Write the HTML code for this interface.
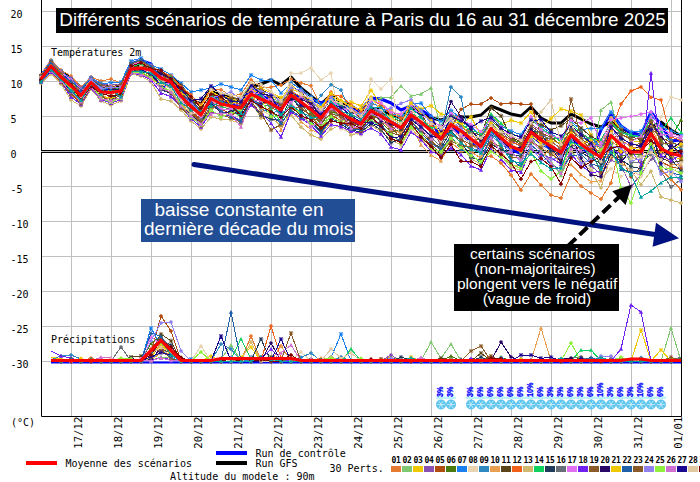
<!DOCTYPE html>
<html><head><meta charset="utf-8"><style>
html,body{margin:0;padding:0;background:#fff;width:700px;height:482px;overflow:hidden}
svg{display:block}
</style></head><body>
<svg width="700" height="482" viewBox="0 0 700 482">
<defs>
<marker id="m0" markerWidth="5" markerHeight="5" refX="2.5" refY="2.5" markerUnits="userSpaceOnUse"><path d="M2.5 0.3L4.7 2.5L2.5 4.7L0.3 2.5Z" fill="#e67a30"/></marker>
<marker id="m1" markerWidth="5" markerHeight="5" refX="2.5" refY="2.5" markerUnits="userSpaceOnUse"><path d="M2.5 0.4L4.6 4.3H0.4Z" fill="#80c870"/></marker>
<marker id="m2" markerWidth="5" markerHeight="5" refX="2.5" refY="2.5" markerUnits="userSpaceOnUse"><path d="M2.5 0.2V4.8M0.2 2.5H4.8M0.9 0.9L4.1 4.1M4.1 0.9L0.9 4.1" stroke="#f0c800" stroke-width="1"/></marker>
<marker id="m3" markerWidth="5" markerHeight="5" refX="2.5" refY="2.5" markerUnits="userSpaceOnUse"><circle cx="2.5" cy="2.5" r="1.8" fill="#8850b0"/></marker>
<marker id="m4" markerWidth="5" markerHeight="5" refX="2.5" refY="2.5" markerUnits="userSpaceOnUse"><path d="M2.5 0.3L4.7 2.5L2.5 4.7L0.3 2.5Z" fill="#b04c10"/></marker>
<marker id="m5" markerWidth="5" markerHeight="5" refX="2.5" refY="2.5" markerUnits="userSpaceOnUse"><path d="M2.5 0.4L4.6 4.3H0.4Z" fill="#4a7a10"/></marker>
<marker id="m6" markerWidth="5" markerHeight="5" refX="2.5" refY="2.5" markerUnits="userSpaceOnUse"><path d="M2.5 0.2V4.8M0.2 2.5H4.8M0.9 0.9L4.1 4.1M4.1 0.9L0.9 4.1" stroke="#1a80f0" stroke-width="1"/></marker>
<marker id="m7" markerWidth="5" markerHeight="5" refX="2.5" refY="2.5" markerUnits="userSpaceOnUse"><circle cx="2.5" cy="2.5" r="1.8" fill="#e8d4b0"/></marker>
<marker id="m8" markerWidth="5" markerHeight="5" refX="2.5" refY="2.5" markerUnits="userSpaceOnUse"><path d="M2.5 0.3L4.7 2.5L2.5 4.7L0.3 2.5Z" fill="#3088c0"/></marker>
<marker id="m9" markerWidth="5" markerHeight="5" refX="2.5" refY="2.5" markerUnits="userSpaceOnUse"><path d="M2.5 0.4L4.6 4.3H0.4Z" fill="#e8a050"/></marker>
<marker id="m10" markerWidth="5" markerHeight="5" refX="2.5" refY="2.5" markerUnits="userSpaceOnUse"><path d="M2.5 0.2V4.8M0.2 2.5H4.8M0.9 0.9L4.1 4.1M4.1 0.9L0.9 4.1" stroke="#5a4418" stroke-width="1"/></marker>
<marker id="m11" markerWidth="5" markerHeight="5" refX="2.5" refY="2.5" markerUnits="userSpaceOnUse"><circle cx="2.5" cy="2.5" r="1.8" fill="#f06018"/></marker>
<marker id="m12" markerWidth="5" markerHeight="5" refX="2.5" refY="2.5" markerUnits="userSpaceOnUse"><path d="M2.5 0.3L4.7 2.5L2.5 4.7L0.3 2.5Z" fill="#d0b870"/></marker>
<marker id="m13" markerWidth="5" markerHeight="5" refX="2.5" refY="2.5" markerUnits="userSpaceOnUse"><path d="M2.5 0.4L4.6 4.3H0.4Z" fill="#10d060"/></marker>
<marker id="m14" markerWidth="5" markerHeight="5" refX="2.5" refY="2.5" markerUnits="userSpaceOnUse"><path d="M2.5 0.2V4.8M0.2 2.5H4.8M0.9 0.9L4.1 4.1M4.1 0.9L0.9 4.1" stroke="#203c5a" stroke-width="1"/></marker>
<marker id="m15" markerWidth="5" markerHeight="5" refX="2.5" refY="2.5" markerUnits="userSpaceOnUse"><circle cx="2.5" cy="2.5" r="1.8" fill="#686e78"/></marker>
<marker id="m16" markerWidth="5" markerHeight="5" refX="2.5" refY="2.5" markerUnits="userSpaceOnUse"><path d="M2.5 0.3L4.7 2.5L2.5 4.7L0.3 2.5Z" fill="#e070f0"/></marker>
<marker id="m17" markerWidth="5" markerHeight="5" refX="2.5" refY="2.5" markerUnits="userSpaceOnUse"><path d="M2.5 0.4L4.6 4.3H0.4Z" fill="#7020f0"/></marker>
<marker id="m18" markerWidth="5" markerHeight="5" refX="2.5" refY="2.5" markerUnits="userSpaceOnUse"><path d="M2.5 0.2V4.8M0.2 2.5H4.8M0.9 0.9L4.1 4.1M4.1 0.9L0.9 4.1" stroke="#8a5a28" stroke-width="1"/></marker>
<marker id="m19" markerWidth="5" markerHeight="5" refX="2.5" refY="2.5" markerUnits="userSpaceOnUse"><circle cx="2.5" cy="2.5" r="1.8" fill="#2a0868"/></marker>
<marker id="m20" markerWidth="5" markerHeight="5" refX="2.5" refY="2.5" markerUnits="userSpaceOnUse"><path d="M2.5 0.3L4.7 2.5L2.5 4.7L0.3 2.5Z" fill="#f0c800"/></marker>
<marker id="m21" markerWidth="5" markerHeight="5" refX="2.5" refY="2.5" markerUnits="userSpaceOnUse"><path d="M2.5 0.4L4.6 4.3H0.4Z" fill="#2060a8"/></marker>
<marker id="m22" markerWidth="5" markerHeight="5" refX="2.5" refY="2.5" markerUnits="userSpaceOnUse"><path d="M2.5 0.2V4.8M0.2 2.5H4.8M0.9 0.9L4.1 4.1M4.1 0.9L0.9 4.1" stroke="#8a5a28" stroke-width="1"/></marker>
<marker id="m23" markerWidth="5" markerHeight="5" refX="2.5" refY="2.5" markerUnits="userSpaceOnUse"><circle cx="2.5" cy="2.5" r="1.8" fill="#9080f0"/></marker>
<marker id="m24" markerWidth="5" markerHeight="5" refX="2.5" refY="2.5" markerUnits="userSpaceOnUse"><path d="M2.5 0.3L4.7 2.5L2.5 4.7L0.3 2.5Z" fill="#90f040"/></marker>
<marker id="m25" markerWidth="5" markerHeight="5" refX="2.5" refY="2.5" markerUnits="userSpaceOnUse"><path d="M2.5 0.4L4.6 4.3H0.4Z" fill="#d070d0"/></marker>
<marker id="m26" markerWidth="5" markerHeight="5" refX="2.5" refY="2.5" markerUnits="userSpaceOnUse"><path d="M2.5 0.2V4.8M0.2 2.5H4.8M0.9 0.9L4.1 4.1M4.1 0.9L0.9 4.1" stroke="#1a0890" stroke-width="1"/></marker>
<marker id="m27" markerWidth="5" markerHeight="5" refX="2.5" refY="2.5" markerUnits="userSpaceOnUse"><circle cx="2.5" cy="2.5" r="1.8" fill="#e0c8a0"/></marker>
<marker id="m28" markerWidth="5" markerHeight="5" refX="2.5" refY="2.5" markerUnits="userSpaceOnUse"><path d="M2.5 0.3L4.7 2.5L2.5 4.7L0.3 2.5Z" fill="#800000"/></marker>
<marker id="m29" markerWidth="5" markerHeight="5" refX="2.5" refY="2.5" markerUnits="userSpaceOnUse"><path d="M2.5 0.4L4.6 4.3H0.4Z" fill="#00a0a0"/></marker>
</defs>
<path d="M71.5 0V416 M111.5 0V416 M151.5 0V416 M191.5 0V416 M231.5 0V416 M271.5 0V416 M311.5 0V416 M351.5 0V416 M391.5 0V416 M431.5 0V416 M471.5 0V416 M511.5 0V416 M551.5 0V416 M591.5 0V416 M631.5 0V416 M671.5 0V416 M41 11.5H681 M41 46.5H681 M41 81.5H681 M41 116.5H681 M41 151.5H681 M41 186.5H681 M41 221.5H681 M41 256.5H681 M41 291.5H681 M41 326.5H681 M41 361.5H681" stroke="#c0c0c0" stroke-width="1" fill="none"/>
<path d="M41.5 0V150 M41.5 152V416.5H681.5V0 M41 150.5H681 M41 152.5H681" stroke="#000" stroke-width="1" fill="none"/>
<polyline points="41,78.0 51,65.0 61,72.0 71,78.0 81,88.0 91,82.0 101,88.0 111,86.0 121,88.0 131,68.0 141,66.0 151,67.0 161,74.0 171,77.0 181,86.0 191,100.0 201,104.0 211,89.0 221,95.0 231,98.0 241,101.0 251,87.0 261,84.0 271,80.0 281,85.0 291,77.0 301,88.0 311,96.0 321,104.0 331,95.0 341,102.0 351,106.0 361,112.0 371,108.0 381,110.0 391,115.0 401,118.0 411,108.0 421,112.0 431,118.0 441,120.0 451,117.0 461,117.0 471,117.0 481,115.0 491,106.0 501,110.0 511,114.0 521,116.0 531,107.0 541,118.0 551,123.0 561,123.0 571,114.0 581,119.0 591,124.0 601,127.0 611,122.0 621,128.0 631,133.0 641,135.0 651,128.0 661,122.0 671,130.0 681,136.0" fill="none" stroke="#000" stroke-width="3" stroke-linejoin="round"/>
<polyline points="41,76.0 51,61.5 61,72.0 71,84.0 81,92.0 91,77.5 101,88.0 111,90.0 121,88.0 131,64.0 141,60.5 151,64.0 161,88.0 171,83.0 181,94.0 191,104.0 201,112.0 211,96.0 221,100.0 231,104.0 241,107.0 251,89.0 261,96.0 271,100.0 281,106.0 291,92.0 301,99.0 311,99.0 321,103.0 331,100.0 341,106.0 351,110.0 361,110.0 371,98.0 381,99.0 391,103.0 401,110.0 411,106.0 421,110.0 431,116.0 441,142.0 451,127.5 461,134.0 471,142.0 481,149.4 491,131.5 501,141.0 511,149.4 521,153.6 531,135.0 541,143.0 551,149.3 561,155.5 571,138.0 581,147.2 591,154.5 601,130.0 611,113.0 621,126.0 631,133.0 641,135.0 651,112.0 661,125.0 671,141.0 681,140.0" fill="none" stroke="#0000ff" stroke-width="3" stroke-linejoin="round"/>
<polyline points="41,75.0 51,60.0 61,70.0 71,76.0 81,87.0 91,77.0 101,81.0 111,79.0 121,83.3 131,64.3 141,62.2 151,67.7 161,72.2 171,77.0 181,87.5 191,99.8 201,104.4 211,89.0 221,89.7 231,96.0 241,94.3 251,79.7 261,87.5 271,87.2 281,85.0 291,79.1 301,83.1 311,85.7 321,106.5 331,92.0 341,101.4 351,107.3 361,117.4 371,103.9 381,106.2 391,110.1 401,120.2 411,111.3 421,124.4 431,125.9 441,142.4 451,126.7 461,138.1 471,151.0 481,158.8 491,156.0 501,163.0 511,175.0 521,190.0 531,174.0 541,185.0 551,195.0 561,198.0 571,175.0 581,186.0 591,193.0 601,199.0 611,183.0 621,140.0 631,146.7 641,148.1 651,138.6 661,169.7 671,179.3 681,189.7" fill="none" stroke="#e67a30" stroke-width="1" shape-rendering="crispEdges" marker-start="url(#m0)" marker-mid="url(#m0)" marker-end="url(#m0)"/>
<polyline points="41,78.1 51,63.6 61,77.6 71,85.7 81,95.2 91,83.5 101,92.8 111,89.8 121,88.0 131,62.2 141,63.4 151,69.2 161,74.4 171,81.4 181,101.6 191,106.1 201,118.9 211,95.0 221,101.0 231,100.3 241,97.8 251,83.6 261,92.1 271,97.5 281,102.8 291,92.6 301,100.5 311,113.1 321,129.0 331,111.1 341,117.4 351,117.5 361,111.4 371,102.9 381,97.6 391,97.1 401,86.0 411,96.0 421,94.0 431,88.0 441,130.0 451,114.3 461,121.8 471,128.5 481,142.5 491,126.8 501,148.0 511,155.7 521,154.9 531,138.1 541,149.6 551,161.4 561,175.4 571,152.3 581,159.8 591,167.3 601,110.0 611,102.0 621,141.4 631,164.6 641,153.0 651,136.6 661,141.0 671,147.5 681,147.6" fill="none" stroke="#80c870" stroke-width="1" shape-rendering="crispEdges" marker-start="url(#m1)" marker-mid="url(#m1)" marker-end="url(#m1)"/>
<polyline points="41,76.4 51,61.4 61,74.2 71,81.5 81,91.1 91,80.0 101,88.8 111,91.6 121,86.8 131,64.8 141,68.2 151,68.0 161,76.1 171,85.3 181,91.2 191,104.5 201,115.4 211,92.7 221,95.9 231,97.7 241,103.1 251,89.9 261,93.0 271,96.6 281,100.0 291,83.8 301,95.6 311,102.4 321,108.5 331,95.5 341,102.4 351,102.0 361,106.0 371,90.4 381,104.2 391,111.1 401,116.0 411,102.0 421,108.8 431,105.7 441,114.0 451,115.4 461,125.0 471,116.8 481,135.8 491,115.5 501,124.8 511,120.3 521,123.1 531,112.0 541,127.2 551,118.6 561,109.0 571,111.2 581,115.0 591,134.9 601,144.5 611,118.2 621,128.4 631,140.7 641,141.8 651,131.2 661,146.1 671,156.6 681,158.8" fill="none" stroke="#f0c800" stroke-width="1" shape-rendering="crispEdges" marker-start="url(#m2)" marker-mid="url(#m2)" marker-end="url(#m2)"/>
<polyline points="41,75.6 51,61.8 61,71.7 71,78.1 81,88.3 91,78.3 101,84.8 111,85.1 121,84.2 131,62.9 141,64.6 151,67.1 161,73.3 171,77.5 181,89.7 191,103.8 201,117.2 211,97.3 221,100.2 231,102.9 241,105.8 251,89.0 261,98.5 271,101.3 281,105.7 291,85.8 301,92.6 311,106.3 321,125.1 331,107.0 341,118.4 351,124.4 361,130.4 371,120.8 381,123.2 391,122.7 401,131.4 411,117.6 421,123.0 431,129.1 441,145.1 451,125.2 461,129.4 471,136.2 481,155.8 491,139.2 501,130.5 511,141.1 521,146.5 531,124.2 541,130.9 551,144.5 561,151.9 571,126.8 581,135.9 591,165.5 601,174.9 611,159.9 621,165.2 631,186.8 641,174.6 651,159.2 661,153.6 671,152.7 681,167.0" fill="none" stroke="#8850b0" stroke-width="1" shape-rendering="crispEdges" marker-start="url(#m3)" marker-mid="url(#m3)" marker-end="url(#m3)"/>
<polyline points="41,80.6 51,71.7 61,81.5 71,93.5 81,102.3 91,86.3 101,97.8 111,96.7 121,92.5 131,70.7 141,68.7 151,70.4 161,75.5 171,79.2 181,98.2 191,110.5 201,120.6 211,101.2 221,108.2 231,115.1 241,110.9 251,95.0 261,111.3 271,107.9 281,111.9 291,96.8 301,109.2 311,114.5 321,130.3 331,115.2 341,120.4 351,127.4 361,129.8 371,116.5 381,117.7 391,125.7 401,134.1 411,114.5 421,121.8 431,127.0 441,143.7 451,129.6 461,109.4 471,104.0 481,104.0 491,98.0 501,104.0 511,103.0 521,104.0 531,104.0 541,135.7 551,145.7 561,158.8 571,145.0 581,148.8 591,149.6 601,157.9 611,157.6 621,157.5 631,176.8 641,166.8 651,144.5 661,161.7 671,166.8 681,169.0" fill="none" stroke="#b04c10" stroke-width="1" shape-rendering="crispEdges" marker-start="url(#m4)" marker-mid="url(#m4)" marker-end="url(#m4)"/>
<polyline points="41,79.1 51,69.2 61,80.7 71,92.8 81,99.1 91,85.5 101,95.6 111,99.0 121,95.6 131,70.4 141,65.2 151,69.8 161,78.5 171,83.4 181,91.9 191,106.9 201,109.7 211,93.5 221,103.6 231,99.5 241,104.9 251,95.7 261,97.6 271,100.3 281,103.8 291,89.7 301,104.0 311,111.8 321,123.8 331,112.5 341,113.5 351,118.5 361,124.3 371,112.2 381,122.1 391,131.5 401,130.0 411,116.6 421,118.6 431,132.9 441,139.7 451,121.8 461,130.5 471,141.4 481,139.1 491,120.0 501,129.4 511,138.8 521,142.9 531,126.6 541,138.2 551,138.3 561,139.4 571,130.6 581,130.7 591,148.3 601,165.5 611,129.5 621,155.6 631,154.9 641,155.0 651,119.8 661,139.3 671,138.8 681,120.0" fill="none" stroke="#4a7a10" stroke-width="1" shape-rendering="crispEdges" marker-start="url(#m5)" marker-mid="url(#m5)" marker-end="url(#m5)"/>
<polyline points="41,76.2 51,60.9 61,71.0 71,79.3 81,89.0 91,77.8 101,83.4 111,82.8 121,82.0 131,61.0 141,58.0 151,65.0 161,69.0 171,75.0 181,83.0 191,92.0 201,90.0 211,87.9 221,84.0 231,87.0 241,90.0 251,75.0 261,80.0 271,80.0 281,93.0 291,82.8 301,89.3 311,96.5 321,104.8 331,96.5 341,106.5 351,112.4 361,115.3 371,101.9 381,108.3 391,113.2 401,117.1 411,104.0 421,103.2 431,116.6 441,121.2 451,110.5 461,118.5 471,126.3 481,136.9 491,116.6 501,125.9 511,131.0 521,134.8 531,118.2 541,126.0 551,133.4 561,140.6 571,121.7 581,129.5 591,128.5 601,128.4 611,112.0 621,126.5 631,131.9 641,131.0 651,114.9 661,126.9 671,130.9 681,134.9" fill="none" stroke="#1a80f0" stroke-width="1" shape-rendering="crispEdges" marker-start="url(#m6)" marker-mid="url(#m6)" marker-end="url(#m6)"/>
<polyline points="41,78.4 51,64.7 61,74.6 71,84.1 81,91.6 91,82.0 101,87.7 111,85.7 121,85.2 131,67.8 141,67.1 151,69.5 161,79.4 171,82.5 181,96.4 191,107.8 201,118.0 211,99.0 221,107.2 231,107.3 241,119.1 251,99.8 261,110.1 271,115.4 281,118.2 291,73.0 301,73.0 311,68.0 321,80.0 331,73.0 341,129.0 351,132.6 361,135.0 371,79.0 381,89.0 391,79.0 401,146.7 411,129.5 421,141.6 431,134.4 441,141.0 451,133.9 461,135.0 471,143.0 481,154.4 491,122.3 501,132.8 511,143.5 521,150.0 531,132.9 541,144.4 551,156.1 561,146.9 571,137.7 581,156.2 591,169.2 601,178.6 611,168.7 621,176.4 631,168.5 641,176.8 651,156.5 661,116.7 671,97.0 681,100.0" fill="none" stroke="#e8d4b0" stroke-width="1" shape-rendering="crispEdges" marker-start="url(#m7)" marker-mid="url(#m7)" marker-end="url(#m7)"/>
<polyline points="41,78.6 51,65.8 61,75.9 71,82.0 81,95.8 91,81.7 101,89.4 111,88.1 121,96.2 131,71.9 141,73.2 151,76.3 161,81.2 171,88.2 181,94.1 191,105.3 201,108.8 211,96.6 221,101.9 231,106.4 241,117.9 251,97.7 261,108.9 271,112.9 281,110.6 291,98.1 301,106.6 311,109.3 321,95.4 331,84.8 341,90.0 351,113.4 361,113.3 371,105.0 381,114.5 391,116.3 401,119.2 411,106.1 421,110.2 431,121.7 441,133.2 451,87.0 461,97.0 471,147.8 481,151.5 491,135.9 501,143.4 511,144.6 521,153.2 531,134.6 541,140.9 551,152.5 561,149.4 571,128.0 581,138.4 591,137.9 601,147.1 611,135.0 621,131.3 631,137.7 641,134.0 651,124.7 661,132.6 671,140.5 681,149.4" fill="none" stroke="#3088c0" stroke-width="1" shape-rendering="crispEdges" marker-start="url(#m8)" marker-mid="url(#m8)" marker-end="url(#m8)"/>
<polyline points="41,82.4 51,72.8 61,83.0 71,95.0 81,102.9 91,85.9 101,94.5 111,99.8 121,91.9 131,70.1 141,70.2 151,73.3 161,80.3 171,90.1 181,103.3 191,114.1 201,121.5 211,108.9 221,105.4 231,110.7 241,108.6 251,94.3 261,107.8 271,110.4 281,130.1 291,109.2 301,121.7 311,129.7 321,134.0 331,121.9 341,119.4 351,125.4 361,123.5 371,111.1 381,119.9 391,130.0 401,132.7 411,124.9 421,145.0 431,155.0 441,161.0 451,142.4 461,150.7 471,152.6 481,157.3 491,140.9 501,151.1 511,165.8 521,165.1 531,148.5 541,156.7 551,149.0 561,166.0 571,164.4 581,174.5 591,181.8 601,180.7 611,140.5 621,149.8 631,156.9 641,160.9 651,126.3 661,147.8 671,164.8 681,164.9" fill="none" stroke="#e8a050" stroke-width="1" shape-rendering="crispEdges" marker-start="url(#m9)" marker-mid="url(#m9)" marker-end="url(#m9)"/>
<polyline points="41,76.0 51,62.1 61,72.9 71,83.6 81,92.6 91,80.6 101,86.5 111,88.7 121,88.5 131,67.3 141,65.8 151,67.4 161,72.7 171,78.3 181,85.3 191,99.1 201,110.5 211,92.0 221,99.3 231,98.6 241,98.7 251,86.3 261,89.3 271,94.7 281,99.0 291,86.8 301,91.6 311,104.3 321,113.5 331,98.5 341,105.4 351,111.4 361,118.4 371,109.1 381,112.4 391,118.4 401,121.2 411,107.2 421,113.4 431,130.2 441,135.3 451,119.7 461,131.8 471,132.9 481,134.7 491,107.9 501,115.9 511,137.6 521,141.7 531,121.8 541,124.6 551,130.0 561,125.8 571,118.7 581,128.0 591,136.6 601,141.8 611,121.2 621,129.9 631,136.2 641,140.3 651,132.8 661,157.6 671,162.7 681,160.8" fill="none" stroke="#5a4418" stroke-width="1" shape-rendering="crispEdges" marker-start="url(#m10)" marker-mid="url(#m10)" marker-end="url(#m10)"/>
<polyline points="41,76.9 51,62.5 61,72.0 71,80.4 81,90.5 91,81.3 101,91.1 111,91.0 121,89.1 131,68.8 141,60.4 151,66.5 161,71.2 171,76.0 181,86.8 191,94.9 201,105.5 211,90.4 221,98.4 231,102.1 241,104.0 251,91.7 261,101.9 271,105.5 281,106.7 291,91.6 301,96.6 311,107.3 321,110.5 331,94.5 341,96.4 351,104.8 361,112.3 371,99.8 381,105.2 391,114.2 401,118.1 411,115.5 421,119.7 431,124.9 441,132.1 451,124.0 461,127.2 471,131.8 481,147.1 491,124.5 501,135.1 511,142.3 521,145.3 531,130.2 541,137.0 551,142.0 561,148.1 571,131.8 581,142.3 591,147.0 601,152.4 611,130.9 621,104.0 631,91.0 641,87.0 651,97.3 661,100.0 671,137.0 681,140.3" fill="none" stroke="#f06018" stroke-width="1" shape-rendering="crispEdges" marker-start="url(#m11)" marker-mid="url(#m11)" marker-end="url(#m11)"/>
<polyline points="41,83.0 51,74.0 61,84.0 71,100.0 81,106.0 91,89.0 101,101.0 111,105.0 121,101.0 131,74.0 141,76.0 151,82.0 161,99.0 171,101.0 181,110.0 191,121.0 201,129.0 211,117.0 221,119.0 231,120.0 241,124.2 251,102.4 261,118.0 271,117.9 281,125.9 291,115.0 301,127.0 311,135.0 321,139.0 331,129.0 341,125.2 351,135.0 361,132.4 371,125.4 381,131.3 391,140.1 401,144.7 411,127.9 421,138.4 431,149.2 441,154.6 451,139.7 461,144.5 471,158.9 481,164.3 491,147.4 501,155.7 511,167.3 521,170.3 531,143.3 541,146.1 551,143.2 561,155.2 571,150.5 581,161.7 591,171.0 601,187.7 611,155.7 621,163.3 631,170.5 641,184.5 651,171.3 661,197.0 671,200.0 681,203.0" fill="none" stroke="#d0b870" stroke-width="1" shape-rendering="crispEdges" marker-start="url(#m12)" marker-mid="url(#m12)" marker-end="url(#m12)"/>
<polyline points="41,77.9 51,64.3 61,73.8 71,88.5 81,97.8 91,82.3 101,90.0 111,92.2 121,86.3 131,66.3 141,64.0 151,68.3 161,77.2 171,76.7 181,90.4 191,98.3 201,107.2 211,95.8 221,106.3 231,109.9 241,116.8 251,97.0 261,96.7 271,109.2 281,122.0 291,100.5 301,101.5 311,110.5 321,118.6 331,102.5 341,104.4 351,119.5 361,127.7 371,115.4 381,115.5 391,115.3 401,122.3 411,113.4 421,117.6 431,128.1 441,125.6 451,112.2 461,123.9 471,130.7 481,133.5 491,114.0 501,123.1 511,133.0 521,138.2 531,119.4 541,128.4 551,134.6 561,141.9 571,123.0 581,133.3 591,139.2 601,139.6 611,122.6 621,132.7 631,134.7 641,137.2 651,118.2 661,130.9 671,118.0 681,132.3" fill="none" stroke="#10d060" stroke-width="1" shape-rendering="crispEdges" marker-start="url(#m13)" marker-mid="url(#m13)" marker-end="url(#m13)"/>
<polyline points="41,79.4 51,67.7 61,79.8 71,87.1 81,96.5 91,84.7 101,96.7 111,98.3 121,93.2 131,69.5 141,71.2 151,74.8 161,89.5 171,93.9 181,105.1 191,115.0 201,123.2 211,104.5 221,111.9 231,112.5 241,106.7 251,103.4 261,115.2 271,119.2 281,120.8 291,95.6 301,110.5 311,121.1 321,131.6 331,118.0 341,124.3 351,130.3 361,131.8 371,123.8 381,129.7 391,142.7 401,139.5 411,126.0 421,130.0 431,141.9 441,147.8 451,131.0 461,141.3 471,157.5 481,160.2 491,144.1 501,149.5 511,154.0 521,156.6 531,131.4 541,132.1 551,150.7 561,153.4 571,146.8 581,152.5 591,158.0 601,163.6 611,144.3 621,159.4 631,166.6 641,168.7 651,148.5 661,144.4 671,158.7 681,171.1" fill="none" stroke="#203c5a" stroke-width="1" shape-rendering="crispEdges" marker-start="url(#m14)" marker-mid="url(#m14)" marker-end="url(#m14)"/>
<polyline points="41,81.6 51,68.2 61,75.1 71,83.1 81,92.1 91,80.3 101,90.6 111,95.2 121,95.0 131,71.6 141,72.7 151,77.8 161,83.0 171,81.8 181,99.9 191,103.0 201,119.7 211,106.7 221,110.0 231,108.2 241,112.1 251,99.1 261,104.3 271,106.7 281,109.5 291,94.5 301,98.5 311,101.4 321,115.5 331,105.7 341,112.5 351,120.5 361,121.5 371,108.0 381,113.4 391,120.4 401,125.4 411,118.7 421,125.8 431,137.4 441,146.5 451,117.6 461,126.1 471,134.0 481,140.2 491,121.1 501,137.4 511,145.8 521,148.8 531,127.8 541,134.5 551,139.5 561,150.6 571,139.5 581,132.0 591,141.8 601,148.4 611,128.1 621,135.6 631,162.7 641,162.8 651,154.5 661,171.7 671,187.1 681,179.3" fill="none" stroke="#686e78" stroke-width="1" shape-rendering="crispEdges" marker-start="url(#m15)" marker-mid="url(#m15)" marker-end="url(#m15)"/>
<polyline points="41,77.4 51,64.0 61,72.5 71,79.9 81,89.5 91,78.9 101,86.0 111,86.3 121,85.7 131,65.3 141,61.5 151,65.7 161,75.0 171,87.2 181,99.0 191,111.4 201,116.3 211,100.1 221,109.1 231,109.0 241,107.6 251,90.8 261,94.9 271,103.1 281,107.6 291,101.8 301,97.6 311,105.3 321,111.5 331,99.5 341,109.5 351,109.4 361,120.4 371,100.9 381,102.9 391,112.2 401,114.1 411,105.1 421,115.5 431,119.6 441,126.8 451,113.3 461,119.6 471,124.7 481,131.6 491,118.9 501,127.1 511,136.5 521,139.4 531,116.8 541,129.7 551,135.8 561,138.1 571,120.4 581,123.1 591,118.0 601,143.1 611,119.8 621,117.9 631,116.4 641,114.3 651,112.1 661,129.2 671,133.5 681,136.7" fill="none" stroke="#e070f0" stroke-width="1" shape-rendering="crispEdges" marker-start="url(#m16)" marker-mid="url(#m16)" marker-end="url(#m16)"/>
<polyline points="41,82.0 51,72.1 61,82.3 71,96.9 81,104.4 91,88.0 101,99.7 111,103.1 121,99.5 131,73.3 141,74.8 151,80.2 161,93.1 171,96.6 181,106.6 191,118.8 201,126.9 211,112.0 221,115.4 231,115.9 241,120.3 251,105.0 261,112.5 271,123.3 281,137.0 291,112.0 301,118.4 311,125.1 321,135.9 331,124.6 341,126.6 351,131.2 361,133.4 371,128.0 381,134.0 391,147.0 401,150.0 411,132.0 421,139.6 431,151.4 441,155.7 451,148.0 461,154.6 471,166.0 481,170.0 491,148.9 501,159.3 511,170.2 521,172.2 531,150.2 541,154.9 551,157.8 561,164.2 571,154.1 581,165.4 591,172.9 601,171.1 611,150.0 621,153.7 631,149.7 641,164.8 651,73.0 661,155.6 671,160.7 681,154.8" fill="none" stroke="#7020f0" stroke-width="1" shape-rendering="crispEdges" marker-start="url(#m17)" marker-mid="url(#m17)" marker-end="url(#m17)"/>
<polyline points="41,77.6 51,63.2 61,73.3 71,82.5 81,94.2 91,79.3 101,85.4 111,86.9 121,84.6 131,63.8 141,60.9 151,66.8 161,71.6 171,77.9 181,95.6 191,112.3 201,122.3 211,111.1 221,114.6 231,117.9 241,122.4 251,101.8 261,113.4 271,130.0 281,124.6 291,107.9 301,107.9 311,115.8 321,119.9 331,109.8 341,115.5 351,126.4 361,131.1 371,114.3 381,128.7 391,133.0 401,135.5 411,120.8 421,131.4 431,140.4 441,150.5 451,135.4 461,139.7 471,144.6 481,148.6 491,142.5 501,146.5 511,157.4 521,158.3 531,141.5 541,147.9 551,154.3 561,160.6 571,99.0 581,137.1 591,150.9 601,173.0 611,136.7 621,137.1 631,145.2 641,143.4 651,127.9 661,137.7 671,142.3 681,145.8" fill="none" stroke="#8a5a28" stroke-width="1" shape-rendering="crispEdges" marker-start="url(#m18)" marker-mid="url(#m18)" marker-end="url(#m18)"/>
<polyline points="41,78.9 51,65.1 61,76.8 71,84.7 81,93.1 91,81.0 101,91.7 111,89.3 121,89.6 131,66.8 141,67.7 151,68.6 161,73.8 171,78.8 181,92.7 191,108.7 201,112.9 211,103.4 221,112.8 231,111.6 241,114.4 251,92.6 261,103.1 271,102.2 281,108.6 291,99.3 301,99.5 311,103.4 321,116.5 331,104.5 341,114.5 351,121.5 361,125.7 371,110.1 381,121.0 391,124.2 401,128.7 411,110.3 421,114.4 431,118.5 441,131.0 451,101.6 461,116.9 471,129.6 481,141.4 491,127.9 501,140.3 511,148.9 521,147.6 531,129.0 541,139.4 551,147.2 561,162.4 571,134.4 581,158.0 591,175.0 601,176.8 611,153.8 621,161.4 631,151.2 641,145.0 651,123.0 661,136.0 671,149.2 681,142.2" fill="none" stroke="#2a0868" stroke-width="1" shape-rendering="crispEdges" marker-start="url(#m19)" marker-mid="url(#m19)" marker-end="url(#m19)"/>
<polyline points="41,80.1 51,65.4 61,78.5 71,90.0 81,98.4 91,82.7 101,97.3 111,97.5 121,98.6 131,72.5 141,73.7 151,78.5 161,85.7 171,80.1 181,93.4 191,97.5 201,106.4 211,91.2 221,97.6 231,103.8 241,100.4 251,88.1 261,88.4 271,92.8 281,97.8 291,88.7 301,93.6 311,100.4 321,107.5 331,93.5 341,100.3 351,106.5 361,109.3 371,97.3 381,110.3 391,117.3 401,124.4 411,103.0 421,112.3 431,120.7 441,134.2 451,122.9 461,122.9 471,138.4 481,145.8 491,123.4 501,136.3 511,147.2 521,151.5 531,136.3 541,142.6 551,140.8 561,143.1 571,133.1 581,143.6 591,140.5 601,151.1 611,132.2 621,151.7 631,148.2 641,149.7 651,134.6 661,151.6 671,151.0 681,144.0" fill="none" stroke="#f0c800" stroke-width="1" shape-rendering="crispEdges" marker-start="url(#m20)" marker-mid="url(#m20)" marker-end="url(#m20)"/>
<polyline points="41,76.7 51,62.9 61,75.5 71,80.9 81,90.0 91,78.6 101,87.1 111,92.9 121,90.7 131,63.3 141,59.5 151,66.2 161,76.6 171,84.4 181,94.9 191,101.4 201,112.1 211,102.3 221,110.9 231,116.6 241,121.4 251,98.4 261,105.4 271,114.2 281,123.3 291,110.2 301,117.1 311,122.5 321,132.9 331,119.3 341,121.4 351,129.3 361,129.1 371,121.8 381,124.3 391,135.9 401,140.9 411,121.8 421,132.8 431,143.4 441,149.2 451,136.8 461,149.2 471,154.2 481,163.1 491,134.3 501,138.8 511,159.1 521,166.9 531,145.0 541,153.2 551,164.9 561,169.6 571,155.9 581,154.3 591,163.6 601,167.4 611,142.4 621,169.3 631,172.4 641,170.7 651,146.5 661,165.7 671,172.9 681,175.2" fill="none" stroke="#2060a8" stroke-width="1" shape-rendering="crispEdges" marker-start="url(#m21)" marker-mid="url(#m21)" marker-end="url(#m21)"/>
<polyline points="41,81.1 51,70.7 61,82.0 71,94.3 81,103.5 91,87.4 101,96.2 111,101.4 121,93.8 131,71.3 141,70.7 151,75.5 161,87.5 171,92.9 181,107.9 191,116.8 201,125.6 211,107.8 221,104.5 231,96.8 241,101.3 251,84.5 261,90.2 271,99.4 281,104.8 291,90.6 301,102.7 311,118.5 321,121.2 331,113.9 341,116.4 351,122.4 361,127.0 371,118.6 381,116.6 391,127.1 401,138.2 411,123.9 421,135.6 431,144.9 441,153.2 451,141.1 461,146.0 471,146.2 481,143.6 491,129.3 501,134.0 511,140.0 521,144.1 531,125.4 541,133.3 551,137.1 561,145.6 571,129.3 581,139.7 591,144.4 601,153.7 611,124.0 621,134.2 631,139.2 641,138.7 651,121.4 661,142.7 671,144.0 681,156.7" fill="none" stroke="#8a5a28" stroke-width="1" shape-rendering="crispEdges" marker-start="url(#m22)" marker-mid="url(#m22)" marker-end="url(#m22)"/>
<polyline points="41,79.6 51,67.2 61,80.2 71,87.8 81,93.7 91,79.6 101,88.3 111,87.5 121,87.4 131,68.3 141,69.2 151,71.8 161,77.7 171,80.5 181,97.3 191,102.2 201,113.8 211,98.1 221,95.0 231,92.0 241,99.6 251,87.2 261,91.2 271,93.8 281,101.9 291,87.7 301,90.7 311,99.4 321,112.5 331,97.5 341,108.5 351,108.4 361,114.3 371,106.0 381,111.4 391,108.1 401,103.4 411,99.7 421,111.3 431,122.8 441,128.9 451,120.8 461,128.3 471,139.8 481,150.0 491,132.6 501,141.8 511,150.6 521,161.7 531,146.7 541,160.2 551,159.6 561,157.0 571,135.9 581,163.5 591,159.9 601,155.0 611,146.2 621,147.9 631,160.8 641,158.9 651,150.5 661,174.1 671,170.9 681,181.6" fill="none" stroke="#9080f0" stroke-width="1" shape-rendering="crispEdges" marker-start="url(#m23)" marker-mid="url(#m23)" marker-end="url(#m23)"/>
<polyline points="41,80.4 51,66.2 61,78.1 71,89.2 81,101.0 91,83.9 101,98.4 111,102.0 121,98.1 131,72.2 141,72.2 151,77.0 161,86.6 171,91.0 181,104.2 191,117.5 201,124.9 211,110.0 221,116.8 231,113.3 241,109.8 251,96.4 261,99.6 271,116.6 281,115.7 291,104.2 301,114.5 311,123.8 321,126.4 331,116.6 341,122.4 351,116.5 361,125.0 371,119.7 381,127.6 391,134.4 401,143.6 411,127.0 421,134.2 431,147.9 441,151.9 451,138.2 461,147.6 471,155.8 481,161.7 491,151.6 501,157.0 511,164.1 521,168.6 531,151.9 541,171.0 551,178.9 561,171.4 571,143.2 581,145.1 591,156.2 601,149.7 611,138.6 621,188.0 631,203.0 641,172.7 651,142.5 661,167.7 671,168.8 681,173.1" fill="none" stroke="#90f040" stroke-width="1" shape-rendering="crispEdges" marker-start="url(#m24)" marker-mid="url(#m24)" marker-end="url(#m24)"/>
<polyline points="41,81.3 51,71.2 61,81.1 71,92.1 81,101.6 91,87.1 101,98.8 111,100.6 121,97.5 131,72.8 141,74.1 151,79.1 161,88.4 171,92.0 181,105.9 191,115.9 201,124.1 211,113.9 221,113.7 231,114.2 241,127.0 251,101.1 261,100.8 271,98.4 281,119.5 291,103.0 301,113.2 311,126.4 321,122.5 331,108.4 341,110.5 351,128.4 361,126.4 371,113.3 381,118.8 391,128.6 401,126.4 411,112.4 421,128.6 431,138.9 441,136.3 451,128.1 461,136.5 471,137.3 481,144.7 491,137.6 501,152.6 511,152.3 521,160.0 531,139.8 541,151.4 551,163.2 561,173.2 571,148.6 581,150.6 591,145.7 601,145.8 611,125.3 621,144.3 631,142.2 641,135.6 651,116.6 661,134.3 671,135.3 681,138.5" fill="none" stroke="#d070d0" stroke-width="1" shape-rendering="crispEdges" marker-start="url(#m25)" marker-mid="url(#m25)" marker-end="url(#m25)"/>
<polyline points="41,80.8 51,70.2 61,78.9 71,91.4 81,94.7 91,85.1 101,92.3 111,93.7 121,91.3 131,69.8 141,69.7 151,74.1 161,84.8 171,80.9 181,88.9 191,100.6 201,98.9 211,86.0 221,94.2 231,101.2 241,102.2 251,85.4 261,93.9 271,95.6 281,113.2 291,93.5 301,105.3 311,108.3 321,114.5 331,103.5 341,107.5 351,115.5 361,122.5 371,122.9 381,126.5 391,137.4 401,136.8 411,119.7 421,127.2 431,135.9 441,138.5 451,116.5 461,120.7 471,127.4 481,121.1 491,117.7 501,128.2 511,134.1 521,137.0 531,120.6 541,119.8 551,132.1 561,136.1 571,125.5 581,134.6 591,143.1 601,159.8 611,126.7 621,138.5 631,143.7 641,146.5 651,129.5 661,163.7 671,145.7 681,153.0" fill="none" stroke="#1a0890" stroke-width="1" shape-rendering="crispEdges" marker-start="url(#m26)" marker-mid="url(#m26)" marker-end="url(#m26)"/>
<polyline points="41,77.2 51,66.7 61,76.4 71,86.4 81,97.1 91,83.1 101,95.0 111,94.4 121,90.2 131,69.2 141,66.5 151,71.1 161,83.9 171,89.1 181,100.7 191,113.2 201,114.6 211,89.6 221,93.2 231,95.0 241,96.9 251,82.6 261,84.6 271,91.7 281,100.9 291,84.8 301,94.6 311,98.4 321,109.5 331,100.5 341,103.4 351,110.4 361,116.4 371,98.8 381,109.3 391,119.4 401,123.3 411,109.2 421,120.7 431,123.8 441,127.8 451,118.6 461,133.4 471,135.1 481,138.0 491,125.7 501,131.7 511,135.3 521,140.5 531,123.0 541,112.0 551,100.0 561,144.4 571,124.2 581,141.0 591,152.4 601,161.7 611,133.6 621,142.8 631,158.8 641,156.9 651,152.5 661,159.7 671,174.9 681,162.9" fill="none" stroke="#e0c8a0" stroke-width="1" shape-rendering="crispEdges" marker-start="url(#m27)" marker-mid="url(#m27)" marker-end="url(#m27)"/>
<polyline points="41,79.9 51,68.7 61,77.2 71,85.2 81,99.7 91,86.7 101,93.4 111,96.0 121,94.4 131,65.8 141,62.8 151,68.9 161,70.3 171,79.6 181,88.2 191,96.7 201,108.0 211,94.3 221,96.7 231,105.6 241,115.6 251,100.4 261,106.6 271,111.7 281,117.0 291,106.7 301,115.8 311,119.8 321,127.7 331,120.7 341,123.3 351,123.4 361,128.4 371,117.6 381,125.4 391,138.8 401,142.2 411,122.9 421,137.0 431,146.4 441,157.7 451,144.5 461,161.0 471,161.6 481,166.5 491,145.8 501,154.2 511,162.5 521,179.0 531,161.6 541,158.4 551,166.7 561,184.0 571,157.9 581,167.4 591,161.7 601,156.3 611,148.1 621,146.0 631,153.0 641,151.2 651,140.6 661,149.6 671,154.6 681,151.2" fill="none" stroke="#800000" stroke-width="1" shape-rendering="crispEdges" marker-start="url(#m28)" marker-mid="url(#m28)" marker-end="url(#m28)"/>
<polyline points="41,81.8 51,69.7 61,79.4 71,90.7 81,100.3 91,84.3 101,93.9 111,90.4 121,96.8 131,71.0 141,71.7 151,72.6 161,82.1 171,86.3 181,102.5 191,109.6 201,111.3 211,105.6 221,102.7 231,104.7 241,113.3 251,93.5 261,95.8 271,104.2 281,114.4 291,105.5 301,111.9 311,117.1 321,117.5 331,101.5 341,111.5 351,114.4 361,119.4 371,107.0 381,107.2 391,121.5 401,127.5 411,108.2 421,116.5 431,131.4 441,137.4 451,132.5 461,142.9 471,149.4 481,152.9 491,131.0 501,144.9 511,160.8 521,163.4 531,154.0 541,162.4 551,169.1 561,167.8 571,141.4 581,147.0 591,154.3 601,169.2 611,151.9 621,167.1 631,174.4 641,197.0 651,191.0 661,182.8 671,177.0 681,177.3" fill="none" stroke="#00a0a0" stroke-width="1" shape-rendering="crispEdges" marker-start="url(#m29)" marker-mid="url(#m29)" marker-end="url(#m29)"/>
<polyline points="51,362.5 61,362.5 71,362.5 81,362.5 91,362.5 101,362.5 111,362.5 121,362.5 131,362.5 141,362.5 151,362.5 161,362.5 171,362.5 181,362.5 191,362.5 201,362.5 211,362.5 221,362.5 231,362.5 241,362.5 251,362.5 261,362.5 271,362.5 281,362.5 291,362.5 301,362.5 311,362.5 321,362.5 331,362.5 341,362.5 351,362.5 361,362.5 371,362.5 381,362.5 391,362.5 401,362.5 411,362.5 421,362.5 431,362.5 441,362.5 451,362.5 461,362.5 471,362.5 481,362.5 491,362.5 501,362.5 511,362.5 521,362.5 531,362.5 541,362.5 551,362.5 561,362.5 571,362.5 581,362.5 591,362.5 601,362.5 611,362.5 621,362.5 631,362.5 641,362.5 651,362.5 661,362.5 671,362.5 681,362.5" fill="none" stroke="#0000ff" stroke-width="2"/>
<polyline points="51,359.9 61,361.0 71,361.0 81,361.0 91,358.3 101,361.0 111,361.0 121,361.0 131,361.0 141,361.0 151,350.9 161,337.8 171,354.9 181,359.5 191,361.0 201,361.0 211,361.0 221,361.0 231,361.0 241,361.0 251,336.0 261,361.0 271,361.0 281,346.0 291,361.0 301,361.0 311,361.0 321,361.0 331,359.9 341,361.0 351,361.0 361,361.0 371,361.0 381,361.0 391,359.4 401,361.0 411,361.0 421,361.0 431,361.0 441,361.0 451,361.0 461,361.0 471,361.0 481,361.0 491,361.0 501,361.0 511,361.0 521,361.0 531,361.0 541,361.0 551,361.0 561,359.8 571,361.0 581,361.0 591,361.0 601,361.0 611,361.0 621,361.0 631,361.0 641,361.0 651,361.0 661,361.0 671,361.0 681,361.0" fill="none" stroke="#e67a30" stroke-width="1" shape-rendering="crispEdges" marker-mid="url(#m0)"/>
<polyline points="51,361.0 61,361.0 71,361.0 81,361.0 91,361.0 101,361.0 111,361.0 121,361.0 131,361.0 141,361.0 151,360.6 161,356.9 171,357.7 181,361.0 191,361.0 201,361.0 211,361.0 221,359.2 231,345.0 241,361.0 251,358.4 261,361.0 271,359.5 281,361.0 291,361.0 301,361.0 311,361.0 321,361.0 331,361.0 341,361.0 351,359.8 361,361.0 371,361.0 381,361.0 391,361.0 401,361.0 411,361.0 421,361.0 431,342.0 441,358.4 451,344.0 461,361.0 471,361.0 481,361.0 491,361.0 501,361.0 511,361.0 521,361.0 531,361.0 541,361.0 551,361.0 561,361.0 571,361.0 581,358.9 591,361.0 601,361.0 611,361.0 621,361.0 631,361.0 641,361.0 651,361.0 661,361.0 671,328.0 681,361.0" fill="none" stroke="#80c870" stroke-width="1" shape-rendering="crispEdges" marker-mid="url(#m1)"/>
<polyline points="51,357.0 61,359.0 71,361.0 81,361.0 91,361.0 101,361.0 111,361.0 121,361.0 131,361.0 141,361.0 151,350.2 161,347.1 171,351.0 181,361.0 191,361.0 201,361.0 211,361.0 221,361.0 231,361.0 241,357.0 251,347.0 261,361.0 271,361.0 281,361.0 291,361.0 301,361.0 311,361.0 321,359.8 331,361.0 341,361.0 351,361.0 361,361.0 371,361.0 381,359.8 391,357.2 401,361.0 411,357.2 421,361.0 431,361.0 441,361.0 451,361.0 461,361.0 471,361.0 481,361.0 491,361.0 501,361.0 511,361.0 521,361.0 531,361.0 541,361.0 551,361.0 561,361.0 571,361.0 581,361.0 591,361.0 601,361.0 611,361.0 621,358.2 631,361.0 641,330.0 651,361.0 661,350.0 671,361.0 681,361.0" fill="none" stroke="#f0c800" stroke-width="1" shape-rendering="crispEdges" marker-mid="url(#m2)"/>
<polyline points="51,361.0 61,361.0 71,361.0 81,361.0 91,361.0 101,361.0 111,361.0 121,361.0 131,361.0 141,361.0 151,352.5 161,345.7 171,359.5 181,361.0 191,361.0 201,361.0 211,359.4 221,361.0 231,361.0 241,361.0 251,359.1 261,361.0 271,359.1 281,361.0 291,361.0 301,361.0 311,361.0 321,361.0 331,361.0 341,359.0 351,361.0 361,361.0 371,361.0 381,361.0 391,355.0 401,361.0 411,361.0 421,361.0 431,361.0 441,361.0 451,361.0 461,361.0 471,361.0 481,361.0 491,361.0 501,359.4 511,361.0 521,361.0 531,361.0 541,361.0 551,361.0 561,361.0 571,361.0 581,361.0 591,361.0 601,361.0 611,361.0 621,361.0 631,361.0 641,361.0 651,361.0 661,361.0 671,361.0 681,357.3" fill="none" stroke="#8850b0" stroke-width="1" shape-rendering="crispEdges" marker-mid="url(#m3)"/>
<polyline points="51,361.0 61,361.0 71,361.0 81,361.0 91,361.0 101,361.0 111,361.0 121,361.0 131,361.0 141,361.0 151,353.0 161,316.0 171,331.0 181,361.0 191,361.0 201,361.0 211,361.0 221,361.0 231,361.0 241,361.0 251,361.0 261,361.0 271,358.0 281,361.0 291,361.0 301,361.0 311,361.0 321,361.0 331,361.0 341,359.3 351,361.0 361,361.0 371,361.0 381,361.0 391,361.0 401,361.0 411,361.0 421,361.0 431,361.0 441,361.0 451,361.0 461,361.0 471,361.0 481,361.0 491,361.0 501,361.0 511,361.0 521,361.0 531,361.0 541,361.0 551,361.0 561,361.0 571,359.4 581,361.0 591,361.0 601,361.0 611,361.0 621,358.4 631,361.0 641,361.0 651,361.0 661,361.0 671,359.9 681,361.0" fill="none" stroke="#b04c10" stroke-width="1" shape-rendering="crispEdges" marker-mid="url(#m4)"/>
<polyline points="51,361.0 61,361.0 71,361.0 81,361.0 91,361.0 101,361.0 111,361.0 121,361.0 131,361.0 141,361.0 151,343.1 161,335.6 171,359.4 181,361.0 191,361.0 201,361.0 211,361.0 221,361.0 231,361.0 241,359.0 251,361.0 261,361.0 271,361.0 281,361.0 291,361.0 301,361.0 311,361.0 321,361.0 331,361.0 341,361.0 351,361.0 361,361.0 371,361.0 381,361.0 391,361.0 401,361.0 411,361.0 421,361.0 431,361.0 441,361.0 451,356.0 461,361.0 471,361.0 481,361.0 491,361.0 501,357.2 511,361.0 521,361.0 531,361.0 541,361.0 551,361.0 561,361.0 571,361.0 581,361.0 591,361.0 601,361.0 611,361.0 621,361.0 631,361.0 641,361.0 651,361.0 661,361.0 671,361.0 681,358.5" fill="none" stroke="#4a7a10" stroke-width="1" shape-rendering="crispEdges" marker-mid="url(#m5)"/>
<polyline points="51,361.0 61,361.0 71,360.0 81,361.0 91,361.0 101,361.0 111,361.0 121,361.0 131,361.0 141,361.0 151,328.0 161,345.4 171,357.8 181,361.0 191,359.0 201,361.0 211,361.0 221,361.0 231,361.0 241,361.0 251,357.1 261,361.0 271,361.0 281,361.0 291,361.0 301,361.0 311,361.0 321,361.0 331,357.7 341,334.0 351,361.0 361,361.0 371,361.0 381,361.0 391,361.0 401,361.0 411,361.0 421,361.0 431,361.0 441,359.6 451,361.0 461,361.0 471,361.0 481,361.0 491,359.6 501,358.2 511,361.0 521,361.0 531,361.0 541,361.0 551,361.0 561,361.0 571,361.0 581,361.0 591,361.0 601,361.0 611,361.0 621,361.0 631,361.0 641,361.0 651,361.0 661,361.0 671,361.0 681,361.0" fill="none" stroke="#1a80f0" stroke-width="1" shape-rendering="crispEdges" marker-mid="url(#m6)"/>
<polyline points="51,358.3 61,361.0 71,358.6 81,361.0 91,361.0 101,361.0 111,361.0 121,359.8 131,361.0 141,361.0 151,359.2 161,350.1 171,354.7 181,361.0 191,361.0 201,346.0 211,361.0 221,361.0 231,361.0 241,361.0 251,361.0 261,361.0 271,361.0 281,361.0 291,361.0 301,352.0 311,361.0 321,361.0 331,361.0 341,359.1 351,361.0 361,361.0 371,361.0 381,361.0 391,361.0 401,361.0 411,361.0 421,361.0 431,361.0 441,361.0 451,361.0 461,361.0 471,361.0 481,361.0 491,361.0 501,361.0 511,361.0 521,361.0 531,361.0 541,361.0 551,361.0 561,361.0 571,361.0 581,361.0 591,361.0 601,361.0 611,361.0 621,361.0 631,361.0 641,361.0 651,361.0 661,361.0 671,361.0 681,361.0" fill="none" stroke="#e8d4b0" stroke-width="1" shape-rendering="crispEdges" marker-mid="url(#m7)"/>
<polyline points="51,359.8 61,356.0 71,355.0 81,359.0 91,361.0 101,361.0 111,361.0 121,361.0 131,361.0 141,361.0 151,358.4 161,352.1 171,355.2 181,361.0 191,361.0 201,361.0 211,361.0 221,344.0 231,349.0 241,361.0 251,359.9 261,361.0 271,361.0 281,361.0 291,361.0 301,357.5 311,353.0 321,361.0 331,361.0 341,357.0 351,361.0 361,361.0 371,361.0 381,361.0 391,361.0 401,361.0 411,361.0 421,361.0 431,361.0 441,361.0 451,361.0 461,361.0 471,361.0 481,361.0 491,361.0 501,361.0 511,361.0 521,361.0 531,359.9 541,361.0 551,361.0 561,361.0 571,361.0 581,361.0 591,361.0 601,361.0 611,361.0 621,361.0 631,359.7 641,357.6 651,361.0 661,361.0 671,361.0 681,361.0" fill="none" stroke="#3088c0" stroke-width="1" shape-rendering="crispEdges" marker-mid="url(#m8)"/>
<polyline points="51,361.0 61,361.0 71,361.0 81,361.0 91,358.5 101,361.0 111,361.0 121,361.0 131,361.0 141,361.0 151,360.5 161,352.1 171,354.3 181,357.6 191,361.0 201,361.0 211,361.0 221,361.0 231,361.0 241,358.6 251,359.4 261,361.0 271,361.0 281,346.0 291,361.0 301,361.0 311,361.0 321,357.8 331,361.0 341,358.9 351,361.0 361,361.0 371,361.0 381,361.0 391,361.0 401,361.0 411,361.0 421,361.0 431,361.0 441,361.0 451,361.0 461,361.0 471,361.0 481,359.1 491,361.0 501,361.0 511,361.0 521,361.0 531,361.0 541,328.0 551,361.0 561,361.0 571,361.0 581,361.0 591,358.0 601,361.0 611,361.0 621,361.0 631,361.0 641,361.0 651,361.0 661,361.0 671,361.0 681,361.0" fill="none" stroke="#e8a050" stroke-width="1" shape-rendering="crispEdges" marker-mid="url(#m9)"/>
<polyline points="51,361.0 61,361.0 71,361.0 81,361.0 91,361.0 101,361.0 111,361.0 121,361.0 131,357.0 141,356.0 151,351.6 161,334.2 171,340.9 181,361.0 191,361.0 201,361.0 211,361.0 221,361.0 231,361.0 241,361.0 251,361.0 261,357.1 271,357.1 281,361.0 291,361.0 301,361.0 311,361.0 321,361.0 331,361.0 341,361.0 351,361.0 361,361.0 371,361.0 381,361.0 391,361.0 401,361.0 411,361.0 421,361.0 431,361.0 441,358.2 451,359.8 461,361.0 471,361.0 481,353.0 491,361.0 501,361.0 511,361.0 521,361.0 531,361.0 541,361.0 551,361.0 561,361.0 571,361.0 581,357.7 591,361.0 601,358.4 611,361.0 621,361.0 631,361.0 641,361.0 651,361.0 661,361.0 671,361.0 681,361.0" fill="none" stroke="#5a4418" stroke-width="1" shape-rendering="crispEdges" marker-mid="url(#m10)"/>
<polyline points="51,361.0 61,361.0 71,361.0 81,361.0 91,361.0 101,361.0 111,361.0 121,361.0 131,361.0 141,361.0 151,349.0 161,339.5 171,348.9 181,361.0 191,361.0 201,361.0 211,361.0 221,361.0 231,361.0 241,361.0 251,361.0 261,361.0 271,326.0 281,358.1 291,361.0 301,361.0 311,361.0 321,361.0 331,361.0 341,361.0 351,361.0 361,361.0 371,361.0 381,361.0 391,359.1 401,361.0 411,361.0 421,361.0 431,361.0 441,361.0 451,361.0 461,361.0 471,361.0 481,361.0 491,361.0 501,361.0 511,361.0 521,361.0 531,361.0 541,361.0 551,361.0 561,361.0 571,361.0 581,361.0 591,361.0 601,361.0 611,361.0 621,361.0 631,361.0 641,361.0 651,361.0 661,361.0 671,361.0 681,361.0" fill="none" stroke="#f06018" stroke-width="1" shape-rendering="crispEdges" marker-mid="url(#m11)"/>
<polyline points="51,361.0 61,361.0 71,361.0 81,361.0 91,361.0 101,361.0 111,361.0 121,361.0 131,361.0 141,361.0 151,358.5 161,342.0 171,350.2 181,361.0 191,361.0 201,361.0 211,361.0 221,361.0 231,361.0 241,361.0 251,342.0 261,361.0 271,361.0 281,361.0 291,357.0 301,361.0 311,361.0 321,361.0 331,357.0 341,361.0 351,361.0 361,361.0 371,361.0 381,361.0 391,361.0 401,361.0 411,361.0 421,361.0 431,361.0 441,361.0 451,361.0 461,359.5 471,361.0 481,361.0 491,361.0 501,361.0 511,361.0 521,358.7 531,361.0 541,358.4 551,361.0 561,361.0 571,359.1 581,361.0 591,361.0 601,361.0 611,361.0 621,361.0 631,361.0 641,359.5 651,361.0 661,361.0 671,361.0 681,361.0" fill="none" stroke="#d0b870" stroke-width="1" shape-rendering="crispEdges" marker-mid="url(#m12)"/>
<polyline points="51,361.0 61,361.0 71,361.0 81,361.0 91,361.0 101,361.0 111,361.0 121,361.0 131,361.0 141,361.0 151,356.5 161,338.0 171,353.1 181,359.5 191,361.0 201,361.0 211,361.0 221,358.4 231,359.5 241,339.0 251,359.4 261,361.0 271,358.1 281,361.0 291,361.0 301,361.0 311,361.0 321,361.0 331,361.0 341,361.0 351,349.0 361,361.0 371,361.0 381,361.0 391,361.0 401,361.0 411,361.0 421,361.0 431,361.0 441,361.0 451,361.0 461,361.0 471,361.0 481,361.0 491,361.0 501,361.0 511,361.0 521,361.0 531,361.0 541,361.0 551,361.0 561,361.0 571,361.0 581,350.0 591,350.0 601,361.0 611,361.0 621,361.0 631,361.0 641,361.0 651,361.0 661,361.0 671,361.0 681,361.0" fill="none" stroke="#10d060" stroke-width="1" shape-rendering="crispEdges" marker-mid="url(#m13)"/>
<polyline points="51,361.0 61,361.0 71,361.0 81,361.0 91,361.0 101,361.0 111,361.0 121,361.0 131,361.0 141,361.0 151,350.4 161,340.2 171,345.3 181,361.0 191,361.0 201,361.0 211,361.0 221,361.0 231,361.0 241,361.0 251,361.0 261,339.0 271,361.0 281,361.0 291,361.0 301,361.0 311,359.8 321,361.0 331,359.5 341,359.6 351,361.0 361,361.0 371,361.0 381,361.0 391,361.0 401,357.2 411,360.0 421,361.0 431,361.0 441,361.0 451,361.0 461,361.0 471,361.0 481,357.1 491,361.0 501,361.0 511,361.0 521,361.0 531,361.0 541,361.0 551,361.0 561,361.0 571,361.0 581,361.0 591,361.0 601,361.0 611,361.0 621,361.0 631,361.0 641,361.0 651,361.0 661,361.0 671,361.0 681,361.0" fill="none" stroke="#203c5a" stroke-width="1" shape-rendering="crispEdges" marker-mid="url(#m14)"/>
<polyline points="51,361.0 61,361.0 71,361.0 81,361.0 91,361.0 101,361.0 111,361.0 121,347.0 131,361.0 141,361.0 151,357.2 161,337.8 171,347.4 181,361.0 191,361.0 201,361.0 211,361.0 221,361.0 231,361.0 241,361.0 251,361.0 261,361.0 271,361.0 281,361.0 291,358.9 301,361.0 311,361.0 321,361.0 331,361.0 341,361.0 351,361.0 361,361.0 371,361.0 381,361.0 391,361.0 401,361.0 411,361.0 421,361.0 431,361.0 441,361.0 451,361.0 461,361.0 471,361.0 481,361.0 491,361.0 501,361.0 511,361.0 521,361.0 531,361.0 541,359.0 551,361.0 561,360.0 571,358.1 581,357.1 591,361.0 601,361.0 611,358.5 621,361.0 631,361.0 641,361.0 651,361.0 661,361.0 671,361.0 681,357.0" fill="none" stroke="#686e78" stroke-width="1" shape-rendering="crispEdges" marker-mid="url(#m15)"/>
<polyline points="51,361.0 61,361.0 71,361.0 81,361.0 91,361.0 101,361.0 111,361.0 121,361.0 131,361.0 141,359.2 151,337.0 161,344.2 171,348.1 181,361.0 191,361.0 201,361.0 211,361.0 221,361.0 231,361.0 241,361.0 251,361.0 261,361.0 271,361.0 281,361.0 291,361.0 301,361.0 311,361.0 321,361.0 331,361.0 341,359.8 351,361.0 361,361.0 371,361.0 381,361.0 391,361.0 401,361.0 411,361.0 421,361.0 431,361.0 441,361.0 451,361.0 461,361.0 471,361.0 481,361.0 491,361.0 501,361.0 511,361.0 521,361.0 531,361.0 541,361.0 551,361.0 561,361.0 571,361.0 581,361.0 591,361.0 601,361.0 611,361.0 621,361.0 631,361.0 641,361.0 651,361.0 661,361.0 671,361.0 681,361.0" fill="none" stroke="#e070f0" stroke-width="1" shape-rendering="crispEdges" marker-mid="url(#m16)"/>
<polyline points="51,351.0 61,356.0 71,358.0 81,361.0 91,361.0 101,361.0 111,361.0 121,361.0 131,361.0 141,361.0 151,359.9 161,358.0 171,359.4 181,361.0 191,361.0 201,361.0 211,361.0 221,361.0 231,361.0 241,361.0 251,361.0 261,358.4 271,349.0 281,358.9 291,361.0 301,361.0 311,361.0 321,361.0 331,361.0 341,361.0 351,361.0 361,361.0 371,361.0 381,359.2 391,361.0 401,361.0 411,361.0 421,361.0 431,361.0 441,361.0 451,361.0 461,361.0 471,358.4 481,361.0 491,361.0 501,361.0 511,361.0 521,361.0 531,361.0 541,361.0 551,361.0 561,361.0 571,361.0 581,361.0 591,361.0 601,361.0 611,361.0 621,349.0 631,305.0 641,312.0 651,361.0 661,361.0 671,357.3 681,361.0" fill="none" stroke="#7020f0" stroke-width="1" shape-rendering="crispEdges" marker-mid="url(#m17)"/>
<polyline points="51,361.0 61,361.0 71,361.0 81,361.0 91,361.0 101,361.0 111,361.0 121,361.0 131,361.0 141,361.0 151,352.1 161,349.8 171,358.9 181,361.0 191,361.0 201,361.0 211,361.0 221,361.0 231,361.0 241,361.0 251,361.0 261,361.0 271,361.0 281,361.0 291,333.0 301,361.0 311,361.0 321,361.0 331,361.0 341,361.0 351,361.0 361,361.0 371,361.0 381,359.0 391,361.0 401,361.0 411,361.0 421,361.0 431,361.0 441,361.0 451,361.0 461,361.0 471,351.0 481,346.0 491,361.0 501,361.0 511,361.0 521,361.0 531,361.0 541,361.0 551,361.0 561,361.0 571,361.0 581,361.0 591,361.0 601,361.0 611,361.0 621,359.5 631,361.0 641,361.0 651,361.0 661,361.0 671,361.0 681,361.0" fill="none" stroke="#8a5a28" stroke-width="1" shape-rendering="crispEdges" marker-mid="url(#m18)"/>
<polyline points="51,361.0 61,361.0 71,361.0 81,361.0 91,361.0 101,361.0 111,361.0 121,361.0 131,358.1 141,361.0 151,359.6 161,347.9 171,351.9 181,361.0 191,361.0 201,361.0 211,361.0 221,361.0 231,361.0 241,361.0 251,361.0 261,361.0 271,343.0 281,361.0 291,361.0 301,361.0 311,361.0 321,361.0 331,361.0 341,361.0 351,361.0 361,361.0 371,361.0 381,361.0 391,361.0 401,361.0 411,361.0 421,361.0 431,361.0 441,361.0 451,361.0 461,361.0 471,361.0 481,361.0 491,361.0 501,342.0 511,357.0 521,361.0 531,361.0 541,361.0 551,361.0 561,359.2 571,358.4 581,361.0 591,361.0 601,361.0 611,361.0 621,361.0 631,361.0 641,361.0 651,361.0 661,361.0 671,361.0 681,361.0" fill="none" stroke="#2a0868" stroke-width="1" shape-rendering="crispEdges" marker-mid="url(#m19)"/>
<polyline points="51,361.0 61,361.0 71,361.0 81,358.4 91,361.0 101,361.0 111,361.0 121,361.0 131,361.0 141,361.0 151,357.1 161,344.8 171,354.2 181,361.0 191,361.0 201,361.0 211,356.0 221,361.0 231,361.0 241,361.0 251,361.0 261,361.0 271,361.0 281,361.0 291,361.0 301,361.0 311,361.0 321,361.0 331,361.0 341,361.0 351,361.0 361,361.0 371,361.0 381,361.0 391,361.0 401,361.0 411,361.0 421,361.0 431,361.0 441,361.0 451,361.0 461,361.0 471,361.0 481,361.0 491,361.0 501,361.0 511,361.0 521,359.4 531,361.0 541,361.0 551,361.0 561,361.0 571,361.0 581,361.0 591,361.0 601,361.0 611,361.0 621,361.0 631,361.0 641,361.0 651,361.0 661,361.0 671,358.4 681,361.0" fill="none" stroke="#f0c800" stroke-width="1" shape-rendering="crispEdges" marker-mid="url(#m20)"/>
<polyline points="51,361.0 61,361.0 71,361.0 81,361.0 91,361.0 101,361.0 111,361.0 121,361.0 131,361.0 141,361.0 151,333.0 161,336.4 171,351.5 181,361.0 191,361.0 201,361.0 211,361.0 221,361.0 231,312.0 241,361.0 251,361.0 261,361.0 271,361.0 281,361.0 291,361.0 301,361.0 311,361.0 321,361.0 331,358.7 341,361.0 351,361.0 361,361.0 371,361.0 381,361.0 391,357.6 401,361.0 411,361.0 421,361.0 431,361.0 441,361.0 451,361.0 461,359.1 471,361.0 481,361.0 491,361.0 501,361.0 511,361.0 521,361.0 531,361.0 541,361.0 551,361.0 561,361.0 571,361.0 581,361.0 591,357.4 601,361.0 611,361.0 621,361.0 631,361.0 641,361.0 651,361.0 661,361.0 671,359.5 681,361.0" fill="none" stroke="#2060a8" stroke-width="1" shape-rendering="crispEdges" marker-mid="url(#m21)"/>
<polyline points="51,361.0 61,361.0 71,359.9 81,361.0 91,359.4 101,361.0 111,361.0 121,361.0 131,361.0 141,361.0 151,352.4 161,349.5 171,352.7 181,361.0 191,361.0 201,361.0 211,361.0 221,361.0 231,361.0 241,361.0 251,361.0 261,361.0 271,361.0 281,361.0 291,361.0 301,361.0 311,361.0 321,361.0 331,361.0 341,361.0 351,361.0 361,361.0 371,361.0 381,361.0 391,361.0 401,361.0 411,361.0 421,361.0 431,361.0 441,361.0 451,361.0 461,361.0 471,361.0 481,361.0 491,356.0 501,361.0 511,361.0 521,361.0 531,361.0 541,361.0 551,361.0 561,361.0 571,361.0 581,361.0 591,361.0 601,361.0 611,361.0 621,361.0 631,361.0 641,361.0 651,361.0 661,361.0 671,357.4 681,361.0" fill="none" stroke="#8a5a28" stroke-width="1" shape-rendering="crispEdges" marker-mid="url(#m22)"/>
<polyline points="51,361.0 61,361.0 71,361.0 81,361.0 91,361.0 101,361.0 111,361.0 121,361.0 131,361.0 141,361.0 151,341.0 161,323.0 171,322.0 181,351.0 191,361.0 201,361.0 211,361.0 221,361.0 231,357.4 241,361.0 251,361.0 261,361.0 271,361.0 281,361.0 291,361.0 301,361.0 311,361.0 321,361.0 331,361.0 341,361.0 351,361.0 361,361.0 371,361.0 381,361.0 391,358.3 401,361.0 411,361.0 421,358.4 431,361.0 441,361.0 451,361.0 461,361.0 471,361.0 481,361.0 491,361.0 501,361.0 511,361.0 521,361.0 531,361.0 541,361.0 551,361.0 561,361.0 571,361.0 581,361.0 591,361.0 601,356.0 611,356.0 621,361.0 631,361.0 641,361.0 651,361.0 661,361.0 671,361.0 681,361.0" fill="none" stroke="#9080f0" stroke-width="1" shape-rendering="crispEdges" marker-mid="url(#m23)"/>
<polyline points="51,361.0 61,361.0 71,359.5 81,361.0 91,361.0 101,359.9 111,361.0 121,358.2 131,358.7 141,361.0 151,350.2 161,343.1 171,353.4 181,361.0 191,361.0 201,352.0 211,361.0 221,361.0 231,361.0 241,361.0 251,361.0 261,361.0 271,361.0 281,361.0 291,361.0 301,361.0 311,361.0 321,359.6 331,358.1 341,361.0 351,361.0 361,358.4 371,361.0 381,361.0 391,361.0 401,361.0 411,361.0 421,361.0 431,361.0 441,361.0 451,361.0 461,361.0 471,361.0 481,361.0 491,361.0 501,361.0 511,361.0 521,361.0 531,361.0 541,361.0 551,361.0 561,361.0 571,343.0 581,361.0 591,361.0 601,361.0 611,361.0 621,357.3 631,361.0 641,361.0 651,361.0 661,361.0 671,361.0 681,361.0" fill="none" stroke="#90f040" stroke-width="1" shape-rendering="crispEdges" marker-mid="url(#m24)"/>
<polyline points="51,361.0 61,361.0 71,361.0 81,361.0 91,361.0 101,357.2 111,358.0 121,361.0 131,361.0 141,361.0 151,360.8 161,357.9 171,360.5 181,360.2 191,361.0 201,361.0 211,361.0 221,361.0 231,361.0 241,361.0 251,361.0 261,361.0 271,361.0 281,353.0 291,345.0 301,361.0 311,359.0 321,361.0 331,361.0 341,361.0 351,361.0 361,361.0 371,361.0 381,361.0 391,361.0 401,361.0 411,361.0 421,357.6 431,361.0 441,361.0 451,361.0 461,361.0 471,361.0 481,361.0 491,359.9 501,361.0 511,361.0 521,361.0 531,360.0 541,361.0 551,361.0 561,361.0 571,361.0 581,361.0 591,361.0 601,358.2 611,361.0 621,361.0 631,361.0 641,361.0 651,361.0 661,361.0 671,361.0 681,361.0" fill="none" stroke="#d070d0" stroke-width="1" shape-rendering="crispEdges" marker-mid="url(#m25)"/>
<polyline points="51,361.0 61,361.0 71,359.6 81,361.0 91,361.0 101,361.0 111,361.0 121,361.0 131,361.0 141,361.0 151,356.8 161,352.6 171,355.0 181,361.0 191,361.0 201,361.0 211,361.0 221,336.0 231,361.0 241,361.0 251,361.0 261,361.0 271,361.0 281,339.0 291,361.0 301,361.0 311,361.0 321,360.0 331,361.0 341,361.0 351,361.0 361,361.0 371,361.0 381,361.0 391,361.0 401,361.0 411,361.0 421,361.0 431,361.0 441,361.0 451,361.0 461,361.0 471,361.0 481,361.0 491,361.0 501,361.0 511,361.0 521,355.0 531,355.0 541,358.4 551,357.2 561,361.0 571,361.0 581,358.5 591,361.0 601,361.0 611,361.0 621,361.0 631,361.0 641,361.0 651,361.0 661,361.0 671,361.0 681,361.0" fill="none" stroke="#1a0890" stroke-width="1" shape-rendering="crispEdges" marker-mid="url(#m26)"/>
<polyline points="51,361.0 61,361.0 71,361.0 81,361.0 91,361.0 101,361.0 111,359.4 121,361.0 131,361.0 141,361.0 151,353.5 161,347.6 171,352.4 181,361.0 191,361.0 201,361.0 211,359.9 221,358.3 231,361.0 241,361.0 251,358.1 261,361.0 271,361.0 281,361.0 291,361.0 301,361.0 311,361.0 321,361.0 331,349.0 341,358.5 351,353.0 361,361.0 371,361.0 381,361.0 391,361.0 401,361.0 411,361.0 421,361.0 431,361.0 441,361.0 451,361.0 461,361.0 471,361.0 481,361.0 491,361.0 501,361.0 511,361.0 521,361.0 531,361.0 541,361.0 551,361.0 561,361.0 571,361.0 581,361.0 591,361.0 601,361.0 611,361.0 621,361.0 631,361.0 641,361.0 651,361.0 661,361.0 671,361.0 681,361.0" fill="none" stroke="#e0c8a0" stroke-width="1" shape-rendering="crispEdges" marker-mid="url(#m27)"/>
<polyline points="51,361.0 61,361.0 71,361.0 81,361.0 91,361.0 101,361.0 111,361.0 121,361.0 131,361.0 141,361.0 151,354.7 161,340.3 171,347.2 181,357.5 191,361.0 201,361.0 211,361.0 221,361.0 231,358.9 241,361.0 251,361.0 261,359.8 271,361.0 281,361.0 291,355.0 301,361.0 311,361.0 321,361.0 331,361.0 341,361.0 351,361.0 361,361.0 371,359.2 381,361.0 391,361.0 401,361.0 411,361.0 421,361.0 431,361.0 441,361.0 451,361.0 461,361.0 471,361.0 481,361.0 491,358.3 501,358.7 511,361.0 521,361.0 531,361.0 541,361.0 551,361.0 561,361.0 571,361.0 581,361.0 591,361.0 601,361.0 611,361.0 621,361.0 631,361.0 641,361.0 651,361.0 661,361.0 671,361.0 681,361.0" fill="none" stroke="#800000" stroke-width="1" shape-rendering="crispEdges" marker-mid="url(#m28)"/>
<polyline points="51,361.0 61,361.0 71,359.5 81,361.0 91,359.6 101,361.0 111,361.0 121,361.0 131,361.0 141,361.0 151,351.5 161,339.9 171,354.9 181,361.0 191,361.0 201,361.0 211,361.0 221,361.0 231,361.0 241,361.0 251,361.0 261,357.0 271,359.4 281,361.0 291,361.0 301,361.0 311,361.0 321,361.0 331,361.0 341,361.0 351,361.0 361,361.0 371,361.0 381,361.0 391,361.0 401,361.0 411,357.6 421,361.0 431,361.0 441,361.0 451,361.0 461,361.0 471,361.0 481,361.0 491,361.0 501,361.0 511,361.0 521,361.0 531,361.0 541,361.0 551,361.0 561,358.3 571,361.0 581,361.0 591,361.0 601,357.4 611,361.0 621,361.0 631,361.0 641,361.0 651,361.0 661,361.0 671,361.0 681,361.0" fill="none" stroke="#00a0a0" stroke-width="1" shape-rendering="crispEdges" marker-mid="url(#m29)"/>
<polyline points="51,360.5 61,360.5 71,360.5 81,360.5 91,360.5 101,360.5 111,360.5 121,360.5 131,360.5 141,360.5 151,350.5 161,340.5 171,350.5 181,360.5 191,360.5 201,360.5 211,360.5 221,358.5 231,358.5 241,358.5 251,358.5 261,358.5 271,358.5 281,358.5 291,358.5 301,360.5 311,360.5 321,360.5 331,360.5 341,360.5 351,360.5 361,360.5 371,360.5 381,360.5 391,360.5 401,360.5 411,360.5 421,360.5 431,360.5 441,360.5 451,360.5 461,360.5 471,360.5 481,360.5 491,360.5 501,360.5 511,360.5 521,360.5 531,360.5 541,360.5 551,360.5 561,360.5 571,360.5 581,360.5 591,360.5 601,360.5 611,360.5 621,360.5 631,359.0 641,359.0 651,360.5 661,360.5 671,360.5 681,360.5" fill="none" stroke="#ff0000" stroke-width="3.2"/>
<polyline points="41,79.0 51,66.0 61,77.0 71,86.0 81,95.5 91,82.5 101,92.0 111,92.5 121,91.0 131,69.0 141,68.0 151,70.0 161,78.0 171,82.0 181,96.0 191,106.5 201,115.0 211,98.5 221,104.0 231,106.0 241,108.0 251,94.0 261,99.0 271,103.6 281,110.0 291,95.0 301,102.0 311,109.8 321,118.0 331,105.0 341,113.0 351,119.0 361,124.0 371,110.6 381,116.0 391,122.0 401,128.0 411,115.0 421,122.3 431,130.7 441,139.0 451,124.5 461,131.0 471,139.0 481,146.4 491,128.5 501,138.0 511,146.4 521,150.6 531,132.0 541,140.0 551,146.3 561,152.5 571,135.0 581,144.2 591,151.5 601,157.0 611,135.7 621,145.0 631,152.0 641,152.0 651,133.6 661,148.6 671,153.6 681,155.7" fill="none" stroke="#ff0000" stroke-width="3.1" stroke-linejoin="round"/>
<text x="10.5" y="18" style="font-family:'DejaVu Sans Mono','Liberation Mono',monospace;font-size:10px">20</text>
<text x="10.5" y="53" style="font-family:'DejaVu Sans Mono','Liberation Mono',monospace;font-size:10px">15</text>
<text x="10.5" y="88" style="font-family:'DejaVu Sans Mono','Liberation Mono',monospace;font-size:10px">10</text>
<text x="10.5" y="123" style="font-family:'DejaVu Sans Mono','Liberation Mono',monospace;font-size:10px">5</text>
<text x="10.5" y="158" style="font-family:'DejaVu Sans Mono','Liberation Mono',monospace;font-size:10px">0</text>
<text x="10.5" y="193" style="font-family:'DejaVu Sans Mono','Liberation Mono',monospace;font-size:10px">-5</text>
<text x="10.5" y="228" style="font-family:'DejaVu Sans Mono','Liberation Mono',monospace;font-size:10px">-10</text>
<text x="10.5" y="263" style="font-family:'DejaVu Sans Mono','Liberation Mono',monospace;font-size:10px">-15</text>
<text x="10.5" y="298" style="font-family:'DejaVu Sans Mono','Liberation Mono',monospace;font-size:10px">-20</text>
<text x="10.5" y="333" style="font-family:'DejaVu Sans Mono','Liberation Mono',monospace;font-size:10px">-25</text>
<text x="10.5" y="368" style="font-family:'DejaVu Sans Mono','Liberation Mono',monospace;font-size:10px">-30</text>
<text x="11" y="426" style="font-family:'DejaVu Sans Mono','Liberation Mono',monospace;font-size:10px">(°C)</text>
<text transform="translate(82,448.8) rotate(-90)" style="font-family:'DejaVu Sans Mono','Liberation Mono',monospace;font-size:10.7px">17/12</text>
<text transform="translate(122,448.8) rotate(-90)" style="font-family:'DejaVu Sans Mono','Liberation Mono',monospace;font-size:10.7px">18/12</text>
<text transform="translate(162,448.8) rotate(-90)" style="font-family:'DejaVu Sans Mono','Liberation Mono',monospace;font-size:10.7px">19/12</text>
<text transform="translate(202,448.8) rotate(-90)" style="font-family:'DejaVu Sans Mono','Liberation Mono',monospace;font-size:10.7px">20/12</text>
<text transform="translate(242,448.8) rotate(-90)" style="font-family:'DejaVu Sans Mono','Liberation Mono',monospace;font-size:10.7px">21/12</text>
<text transform="translate(282,448.8) rotate(-90)" style="font-family:'DejaVu Sans Mono','Liberation Mono',monospace;font-size:10.7px">22/12</text>
<text transform="translate(322,448.8) rotate(-90)" style="font-family:'DejaVu Sans Mono','Liberation Mono',monospace;font-size:10.7px">23/12</text>
<text transform="translate(362,448.8) rotate(-90)" style="font-family:'DejaVu Sans Mono','Liberation Mono',monospace;font-size:10.7px">24/12</text>
<text transform="translate(402,448.8) rotate(-90)" style="font-family:'DejaVu Sans Mono','Liberation Mono',monospace;font-size:10.7px">25/12</text>
<text transform="translate(442,448.8) rotate(-90)" style="font-family:'DejaVu Sans Mono','Liberation Mono',monospace;font-size:10.7px">26/12</text>
<text transform="translate(482,448.8) rotate(-90)" style="font-family:'DejaVu Sans Mono','Liberation Mono',monospace;font-size:10.7px">27/12</text>
<text transform="translate(522,448.8) rotate(-90)" style="font-family:'DejaVu Sans Mono','Liberation Mono',monospace;font-size:10.7px">28/12</text>
<text transform="translate(562,448.8) rotate(-90)" style="font-family:'DejaVu Sans Mono','Liberation Mono',monospace;font-size:10.7px">29/12</text>
<text transform="translate(602,448.8) rotate(-90)" style="font-family:'DejaVu Sans Mono','Liberation Mono',monospace;font-size:10.7px">30/12</text>
<text transform="translate(642,448.8) rotate(-90)" style="font-family:'DejaVu Sans Mono','Liberation Mono',monospace;font-size:10.7px">31/12</text>
<text transform="translate(682,448.8) rotate(-90)" style="font-family:'DejaVu Sans Mono','Liberation Mono',monospace;font-size:10.7px">01/01</text>
<text x="51" y="56" style="font-family:'DejaVu Sans Mono','Liberation Mono',monospace;font-size:10px">Températures 2m</text>
<text x="51" y="343" style="font-family:'DejaVu Sans Mono','Liberation Mono',monospace;font-size:10px">Précipitations</text>
<rect x="436" y="396.6" width="20" height="2.4" fill="#bcf2fb"/>
<rect x="466" y="396.6" width="200" height="2.4" fill="#bcf2fb"/>
<circle cx="441" cy="404.5" r="5" fill="#5cc4ee"/>
<path d="M437 404.5H445M439 401L443 408M443 401L439 408" stroke="#b8e8fa" stroke-width="1"/>
<text transform="translate(443.4,397) rotate(-90) scale(0.85,1)" style="font-family:'Liberation Sans',Arial,sans-serif;font-size:8.4px;font-weight:bold" fill="#0000ff" stroke="#0000ff" stroke-width="0.3">3%</text>
<circle cx="451" cy="404.5" r="5" fill="#5cc4ee"/>
<path d="M447 404.5H455M449 401L453 408M453 401L449 408" stroke="#b8e8fa" stroke-width="1"/>
<text transform="translate(453.4,397) rotate(-90) scale(0.85,1)" style="font-family:'Liberation Sans',Arial,sans-serif;font-size:8.4px;font-weight:bold" fill="#0000ff" stroke="#0000ff" stroke-width="0.3">3%</text>
<circle cx="471" cy="404.5" r="5" fill="#5cc4ee"/>
<path d="M467 404.5H475M469 401L473 408M473 401L469 408" stroke="#b8e8fa" stroke-width="1"/>
<text transform="translate(473.4,397) rotate(-90) scale(0.85,1)" style="font-family:'Liberation Sans',Arial,sans-serif;font-size:8.4px;font-weight:bold" fill="#0000ff" stroke="#0000ff" stroke-width="0.3">3%</text>
<circle cx="481" cy="404.5" r="5" fill="#5cc4ee"/>
<path d="M477 404.5H485M479 401L483 408M483 401L479 408" stroke="#b8e8fa" stroke-width="1"/>
<text transform="translate(483.4,397) rotate(-90) scale(0.85,1)" style="font-family:'Liberation Sans',Arial,sans-serif;font-size:8.4px;font-weight:bold" fill="#0000ff" stroke="#0000ff" stroke-width="0.3">6%</text>
<circle cx="491" cy="404.5" r="5" fill="#5cc4ee"/>
<path d="M487 404.5H495M489 401L493 408M493 401L489 408" stroke="#b8e8fa" stroke-width="1"/>
<text transform="translate(493.4,397) rotate(-90) scale(0.85,1)" style="font-family:'Liberation Sans',Arial,sans-serif;font-size:8.4px;font-weight:bold" fill="#0000ff" stroke="#0000ff" stroke-width="0.3">6%</text>
<circle cx="501" cy="404.5" r="5" fill="#5cc4ee"/>
<path d="M497 404.5H505M499 401L503 408M503 401L499 408" stroke="#b8e8fa" stroke-width="1"/>
<text transform="translate(503.4,397) rotate(-90) scale(0.85,1)" style="font-family:'Liberation Sans',Arial,sans-serif;font-size:8.4px;font-weight:bold" fill="#0000ff" stroke="#0000ff" stroke-width="0.3">6%</text>
<circle cx="511" cy="404.5" r="5" fill="#5cc4ee"/>
<path d="M507 404.5H515M509 401L513 408M513 401L509 408" stroke="#b8e8fa" stroke-width="1"/>
<text transform="translate(513.4,397) rotate(-90) scale(0.85,1)" style="font-family:'Liberation Sans',Arial,sans-serif;font-size:8.4px;font-weight:bold" fill="#0000ff" stroke="#0000ff" stroke-width="0.3">6%</text>
<circle cx="521" cy="404.5" r="5" fill="#5cc4ee"/>
<path d="M517 404.5H525M519 401L523 408M523 401L519 408" stroke="#b8e8fa" stroke-width="1"/>
<text transform="translate(523.4,397) rotate(-90) scale(0.85,1)" style="font-family:'Liberation Sans',Arial,sans-serif;font-size:8.4px;font-weight:bold" fill="#0000ff" stroke="#0000ff" stroke-width="0.3">6%</text>
<circle cx="531" cy="404.5" r="5" fill="#5cc4ee"/>
<path d="M527 404.5H535M529 401L533 408M533 401L529 408" stroke="#b8e8fa" stroke-width="1"/>
<text transform="translate(533.4,397) rotate(-90) scale(0.85,1)" style="font-family:'Liberation Sans',Arial,sans-serif;font-size:8.4px;font-weight:bold" fill="#0000ff" stroke="#0000ff" stroke-width="0.3">10%</text>
<circle cx="541" cy="404.5" r="5" fill="#5cc4ee"/>
<path d="M537 404.5H545M539 401L543 408M543 401L539 408" stroke="#b8e8fa" stroke-width="1"/>
<text transform="translate(543.4,397) rotate(-90) scale(0.85,1)" style="font-family:'Liberation Sans',Arial,sans-serif;font-size:8.4px;font-weight:bold" fill="#0000ff" stroke="#0000ff" stroke-width="0.3">6%</text>
<circle cx="551" cy="404.5" r="5" fill="#5cc4ee"/>
<path d="M547 404.5H555M549 401L553 408M553 401L549 408" stroke="#b8e8fa" stroke-width="1"/>
<text transform="translate(553.4,397) rotate(-90) scale(0.85,1)" style="font-family:'Liberation Sans',Arial,sans-serif;font-size:8.4px;font-weight:bold" fill="#0000ff" stroke="#0000ff" stroke-width="0.3">3%</text>
<circle cx="561" cy="404.5" r="5" fill="#5cc4ee"/>
<path d="M557 404.5H565M559 401L563 408M563 401L559 408" stroke="#b8e8fa" stroke-width="1"/>
<text transform="translate(563.4,397) rotate(-90) scale(0.85,1)" style="font-family:'Liberation Sans',Arial,sans-serif;font-size:8.4px;font-weight:bold" fill="#0000ff" stroke="#0000ff" stroke-width="0.3">3%</text>
<circle cx="571" cy="404.5" r="5" fill="#5cc4ee"/>
<path d="M567 404.5H575M569 401L573 408M573 401L569 408" stroke="#b8e8fa" stroke-width="1"/>
<text transform="translate(573.4,397) rotate(-90) scale(0.85,1)" style="font-family:'Liberation Sans',Arial,sans-serif;font-size:8.4px;font-weight:bold" fill="#0000ff" stroke="#0000ff" stroke-width="0.3">6%</text>
<circle cx="581" cy="404.5" r="5" fill="#5cc4ee"/>
<path d="M577 404.5H585M579 401L583 408M583 401L579 408" stroke="#b8e8fa" stroke-width="1"/>
<text transform="translate(583.4,397) rotate(-90) scale(0.85,1)" style="font-family:'Liberation Sans',Arial,sans-serif;font-size:8.4px;font-weight:bold" fill="#0000ff" stroke="#0000ff" stroke-width="0.3">3%</text>
<circle cx="591" cy="404.5" r="5" fill="#5cc4ee"/>
<path d="M587 404.5H595M589 401L593 408M593 401L589 408" stroke="#b8e8fa" stroke-width="1"/>
<text transform="translate(593.4,397) rotate(-90) scale(0.85,1)" style="font-family:'Liberation Sans',Arial,sans-serif;font-size:8.4px;font-weight:bold" fill="#0000ff" stroke="#0000ff" stroke-width="0.3">6%</text>
<circle cx="601" cy="404.5" r="5" fill="#5cc4ee"/>
<path d="M597 404.5H605M599 401L603 408M603 401L599 408" stroke="#b8e8fa" stroke-width="1"/>
<text transform="translate(603.4,397) rotate(-90) scale(0.85,1)" style="font-family:'Liberation Sans',Arial,sans-serif;font-size:8.4px;font-weight:bold" fill="#0000ff" stroke="#0000ff" stroke-width="0.3">10%</text>
<circle cx="611" cy="404.5" r="5" fill="#5cc4ee"/>
<path d="M607 404.5H615M609 401L613 408M613 401L609 408" stroke="#b8e8fa" stroke-width="1"/>
<text transform="translate(613.4,397) rotate(-90) scale(0.85,1)" style="font-family:'Liberation Sans',Arial,sans-serif;font-size:8.4px;font-weight:bold" fill="#0000ff" stroke="#0000ff" stroke-width="0.3">3%</text>
<circle cx="621" cy="404.5" r="5" fill="#5cc4ee"/>
<path d="M617 404.5H625M619 401L623 408M623 401L619 408" stroke="#b8e8fa" stroke-width="1"/>
<text transform="translate(623.4,397) rotate(-90) scale(0.85,1)" style="font-family:'Liberation Sans',Arial,sans-serif;font-size:8.4px;font-weight:bold" fill="#0000ff" stroke="#0000ff" stroke-width="0.3">6%</text>
<circle cx="631" cy="404.5" r="5" fill="#5cc4ee"/>
<path d="M627 404.5H635M629 401L633 408M633 401L629 408" stroke="#b8e8fa" stroke-width="1"/>
<text transform="translate(633.4,397) rotate(-90) scale(0.85,1)" style="font-family:'Liberation Sans',Arial,sans-serif;font-size:8.4px;font-weight:bold" fill="#0000ff" stroke="#0000ff" stroke-width="0.3">3%</text>
<circle cx="641" cy="404.5" r="5" fill="#5cc4ee"/>
<path d="M637 404.5H645M639 401L643 408M643 401L639 408" stroke="#b8e8fa" stroke-width="1"/>
<text transform="translate(643.4,397) rotate(-90) scale(0.85,1)" style="font-family:'Liberation Sans',Arial,sans-serif;font-size:8.4px;font-weight:bold" fill="#0000ff" stroke="#0000ff" stroke-width="0.3">10%</text>
<circle cx="651" cy="404.5" r="5" fill="#5cc4ee"/>
<path d="M647 404.5H655M649 401L653 408M653 401L649 408" stroke="#b8e8fa" stroke-width="1"/>
<text transform="translate(653.4,397) rotate(-90) scale(0.85,1)" style="font-family:'Liberation Sans',Arial,sans-serif;font-size:8.4px;font-weight:bold" fill="#0000ff" stroke="#0000ff" stroke-width="0.3">6%</text>
<circle cx="661" cy="404.5" r="5" fill="#5cc4ee"/>
<path d="M657 404.5H665M659 401L663 408M663 401L659 408" stroke="#b8e8fa" stroke-width="1"/>
<text transform="translate(663.4,397) rotate(-90) scale(0.85,1)" style="font-family:'Liberation Sans',Arial,sans-serif;font-size:8.4px;font-weight:bold" fill="#0000ff" stroke="#0000ff" stroke-width="0.3">6%</text>
<rect x="56" y="8" width="612" height="25" fill="#000"/>
<text x="59.3" y="26" style="font-family:'Liberation Sans',Arial,sans-serif;font-size:19px" fill="#fff" textLength="606.5" lengthAdjust="spacingAndGlyphs">Différents scénarios de température à Paris du 16 au 31 décembre 2025</text>
<line x1="194" y1="164.5" x2="655" y2="234.5" stroke="#00127f" stroke-width="5" stroke-linecap="round"/>
<polygon points="656,222.8 679,238.3 652.6,246.8" fill="#00127f"/>
<rect x="141" y="199" width="214" height="43" fill="#214e95"/>
<text x="154.5" y="215.5" style="font-family:'Liberation Sans',Arial,sans-serif;font-size:19px" fill="#fff">baisse constante en</text>
<text x="144" y="235" style="font-family:'Liberation Sans',Arial,sans-serif;font-size:19px" fill="#fff">dernière décade du mois</text>
<line x1="568" y1="246" x2="619" y2="197" stroke="#000" stroke-width="4" stroke-dasharray="11 5"/>
<polygon points="632,184.6 612.3,191.3 625.6,204.9" fill="#000"/>
<rect x="454" y="244" width="165" height="67" fill="#000"/>
<text x="470" y="258.5" style="font-family:'Liberation Sans',Arial,sans-serif;font-size:15.5px" fill="#fff">certains scénarios</text>
<text x="474.3" y="273.6" style="font-family:'Liberation Sans',Arial,sans-serif;font-size:15.5px" fill="#fff">(non-majoritaires)</text>
<text x="457" y="288.8" style="font-family:'Liberation Sans',Arial,sans-serif;font-size:15.5px" fill="#fff">plongent vers le négatif</text>
<text x="482.7" y="304.3" style="font-family:'Liberation Sans',Arial,sans-serif;font-size:15.5px" fill="#fff">(vague de froid)</text>
<rect x="26" y="461" width="31" height="4" fill="#ff0000"/>
<text x="65.5" y="467" style="font-family:'DejaVu Sans Mono','Liberation Mono',monospace;font-size:10px">Moyenne des scénarios</text>
<rect x="216" y="451" width="31" height="4" fill="#0000ff"/>
<rect x="216" y="461" width="31" height="4" fill="#000"/>
<text x="255.5" y="457" style="font-family:'DejaVu Sans Mono','Liberation Mono',monospace;font-size:10px">Run de contrôle</text>
<text x="255.5" y="467" style="font-family:'DejaVu Sans Mono','Liberation Mono',monospace;font-size:10px">Run GFS</text>
<text x="170" y="479.5" style="font-family:'DejaVu Sans Mono','Liberation Mono',monospace;font-size:10px">Altitude du modele : 90m</text>
<text x="329.5" y="471.5" style="font-family:'DejaVu Sans Mono','Liberation Mono',monospace;font-size:10px">30 Perts.</text>
<rect x="391" y="466" width="10" height="6" fill="#e67a30"/>
<text x="391.5" y="463" style="font-family:'DejaVu Sans Mono','Liberation Mono',monospace;font-size:8px;font-weight:bold;letter-spacing:-0.2px">01</text>
<rect x="402" y="466" width="10" height="6" fill="#80c870"/>
<text x="402.5" y="463" style="font-family:'DejaVu Sans Mono','Liberation Mono',monospace;font-size:8px;font-weight:bold;letter-spacing:-0.2px">02</text>
<rect x="413" y="466" width="10" height="6" fill="#f0c800"/>
<text x="413.5" y="463" style="font-family:'DejaVu Sans Mono','Liberation Mono',monospace;font-size:8px;font-weight:bold;letter-spacing:-0.2px">03</text>
<rect x="424" y="466" width="10" height="6" fill="#8850b0"/>
<text x="424.5" y="463" style="font-family:'DejaVu Sans Mono','Liberation Mono',monospace;font-size:8px;font-weight:bold;letter-spacing:-0.2px">04</text>
<rect x="435" y="466" width="10" height="6" fill="#b04c10"/>
<text x="435.5" y="463" style="font-family:'DejaVu Sans Mono','Liberation Mono',monospace;font-size:8px;font-weight:bold;letter-spacing:-0.2px">05</text>
<rect x="446" y="466" width="10" height="6" fill="#4a7a10"/>
<text x="446.5" y="463" style="font-family:'DejaVu Sans Mono','Liberation Mono',monospace;font-size:8px;font-weight:bold;letter-spacing:-0.2px">06</text>
<rect x="457" y="466" width="10" height="6" fill="#1a80f0"/>
<text x="457.5" y="463" style="font-family:'DejaVu Sans Mono','Liberation Mono',monospace;font-size:8px;font-weight:bold;letter-spacing:-0.2px">07</text>
<rect x="468" y="466" width="10" height="6" fill="#e8d4b0"/>
<text x="468.5" y="463" style="font-family:'DejaVu Sans Mono','Liberation Mono',monospace;font-size:8px;font-weight:bold;letter-spacing:-0.2px">08</text>
<rect x="479" y="466" width="10" height="6" fill="#3088c0"/>
<text x="479.5" y="463" style="font-family:'DejaVu Sans Mono','Liberation Mono',monospace;font-size:8px;font-weight:bold;letter-spacing:-0.2px">09</text>
<rect x="490" y="466" width="10" height="6" fill="#e8a050"/>
<text x="490.5" y="463" style="font-family:'DejaVu Sans Mono','Liberation Mono',monospace;font-size:8px;font-weight:bold;letter-spacing:-0.2px">10</text>
<rect x="501" y="466" width="10" height="6" fill="#5a4418"/>
<text x="501.5" y="463" style="font-family:'DejaVu Sans Mono','Liberation Mono',monospace;font-size:8px;font-weight:bold;letter-spacing:-0.2px">11</text>
<rect x="512" y="466" width="10" height="6" fill="#f06018"/>
<text x="512.5" y="463" style="font-family:'DejaVu Sans Mono','Liberation Mono',monospace;font-size:8px;font-weight:bold;letter-spacing:-0.2px">12</text>
<rect x="523" y="466" width="10" height="6" fill="#d0b870"/>
<text x="523.5" y="463" style="font-family:'DejaVu Sans Mono','Liberation Mono',monospace;font-size:8px;font-weight:bold;letter-spacing:-0.2px">13</text>
<rect x="534" y="466" width="10" height="6" fill="#10d060"/>
<text x="534.5" y="463" style="font-family:'DejaVu Sans Mono','Liberation Mono',monospace;font-size:8px;font-weight:bold;letter-spacing:-0.2px">14</text>
<rect x="545" y="466" width="10" height="6" fill="#203c5a"/>
<text x="545.5" y="463" style="font-family:'DejaVu Sans Mono','Liberation Mono',monospace;font-size:8px;font-weight:bold;letter-spacing:-0.2px">15</text>
<rect x="556" y="466" width="10" height="6" fill="#686e78"/>
<text x="556.5" y="463" style="font-family:'DejaVu Sans Mono','Liberation Mono',monospace;font-size:8px;font-weight:bold;letter-spacing:-0.2px">16</text>
<rect x="567" y="466" width="10" height="6" fill="#e070f0"/>
<text x="567.5" y="463" style="font-family:'DejaVu Sans Mono','Liberation Mono',monospace;font-size:8px;font-weight:bold;letter-spacing:-0.2px">17</text>
<rect x="578" y="466" width="10" height="6" fill="#7020f0"/>
<text x="578.5" y="463" style="font-family:'DejaVu Sans Mono','Liberation Mono',monospace;font-size:8px;font-weight:bold;letter-spacing:-0.2px">18</text>
<rect x="589" y="466" width="10" height="6" fill="#8a5a28"/>
<text x="589.5" y="463" style="font-family:'DejaVu Sans Mono','Liberation Mono',monospace;font-size:8px;font-weight:bold;letter-spacing:-0.2px">19</text>
<rect x="600" y="466" width="10" height="6" fill="#2a0868"/>
<text x="600.5" y="463" style="font-family:'DejaVu Sans Mono','Liberation Mono',monospace;font-size:8px;font-weight:bold;letter-spacing:-0.2px">20</text>
<rect x="611" y="466" width="10" height="6" fill="#f0c800"/>
<text x="611.5" y="463" style="font-family:'DejaVu Sans Mono','Liberation Mono',monospace;font-size:8px;font-weight:bold;letter-spacing:-0.2px">21</text>
<rect x="622" y="466" width="10" height="6" fill="#2060a8"/>
<text x="622.5" y="463" style="font-family:'DejaVu Sans Mono','Liberation Mono',monospace;font-size:8px;font-weight:bold;letter-spacing:-0.2px">22</text>
<rect x="633" y="466" width="10" height="6" fill="#8a5a28"/>
<text x="633.5" y="463" style="font-family:'DejaVu Sans Mono','Liberation Mono',monospace;font-size:8px;font-weight:bold;letter-spacing:-0.2px">23</text>
<rect x="644" y="466" width="10" height="6" fill="#9080f0"/>
<text x="644.5" y="463" style="font-family:'DejaVu Sans Mono','Liberation Mono',monospace;font-size:8px;font-weight:bold;letter-spacing:-0.2px">24</text>
<rect x="655" y="466" width="10" height="6" fill="#90f040"/>
<text x="655.5" y="463" style="font-family:'DejaVu Sans Mono','Liberation Mono',monospace;font-size:8px;font-weight:bold;letter-spacing:-0.2px">25</text>
<rect x="666" y="466" width="10" height="6" fill="#d070d0"/>
<text x="666.5" y="463" style="font-family:'DejaVu Sans Mono','Liberation Mono',monospace;font-size:8px;font-weight:bold;letter-spacing:-0.2px">26</text>
<rect x="677" y="466" width="10" height="6" fill="#1a0890"/>
<text x="677.5" y="463" style="font-family:'DejaVu Sans Mono','Liberation Mono',monospace;font-size:8px;font-weight:bold;letter-spacing:-0.2px">27</text>
<rect x="688" y="466" width="10" height="6" fill="#e0c8a0"/>
<text x="688.5" y="463" style="font-family:'DejaVu Sans Mono','Liberation Mono',monospace;font-size:8px;font-weight:bold;letter-spacing:-0.2px">28</text>
<rect x="699" y="466" width="10" height="6" fill="#800000"/>
<text x="699.5" y="463" style="font-family:'DejaVu Sans Mono','Liberation Mono',monospace;font-size:8px;font-weight:bold;letter-spacing:-0.2px">29</text>
</svg>
</body></html>
